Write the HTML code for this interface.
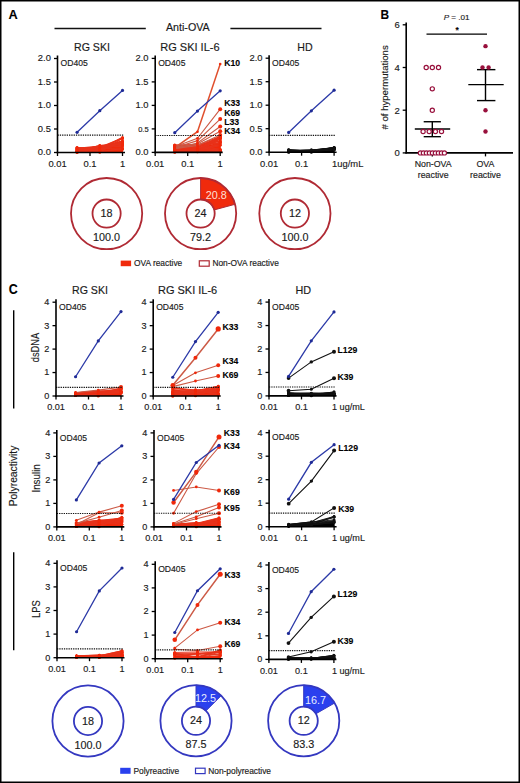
<!DOCTYPE html>
<html><head><meta charset="utf-8"><style>
html,body{margin:0;padding:0;background:#fff;}
body{width:520px;height:783px;overflow:hidden;}
svg{display:block;font-family:"Liberation Sans", sans-serif;}
text{stroke:#1a1a1a;stroke-width:0.15px;paint-order:stroke;}
text[font-weight=bold]{stroke-width:0.1px;}
text.w{stroke:none;}
</style></head><body>
<svg width="520" height="783" viewBox="0 0 520 783">
<rect x="0" y="0" width="520" height="783" fill="#fff"/>
<text x="8.60" y="18.70" font-size="13.4" text-anchor="start" font-weight="bold" fill="#000" textLength="9.2" lengthAdjust="spacingAndGlyphs">A</text>
<line x1="54.50" y1="28.50" x2="145.80" y2="28.50" stroke="#111" stroke-width="1.3" />
<line x1="230.40" y1="28.50" x2="321.50" y2="28.50" stroke="#111" stroke-width="1.3" />
<text x="187.80" y="31.30" font-size="10.7" text-anchor="middle" font-weight="normal" fill="#1a1a1a" >Anti-OVA</text>

<text x="92.00" y="50.50" font-size="10.6" text-anchor="middle" font-weight="normal" fill="#1a1a1a" >RG SKI</text>
<text x="189.90" y="50.60" font-size="11.0" text-anchor="middle" font-weight="normal" fill="#1a1a1a" >RG SKI IL-6</text>
<text x="305.00" y="50.50" font-size="10.6" text-anchor="middle" font-weight="normal" fill="#1a1a1a" >HD</text>
<polygon points="75.87,152.50 75.87,147.33 77.07,147.33 99.78,146.86 122.50,140.28 123.10,140.28 123.10,152.50" fill="#f0280a"/>
<polyline points="77.07,151.16 99.78,148.66 122.50,145.11" fill="none" stroke="#e8321a" stroke-width="1.2"/>
<circle cx="77.07" cy="151.16" r="1.5" fill="#f0280a"/>
<circle cx="99.78" cy="148.66" r="1.5" fill="#f0280a"/>
<circle cx="122.50" cy="145.11" r="1.5" fill="#f0280a"/>
<polyline points="77.07,149.09 99.78,148.09 122.50,149.26" fill="none" stroke="#e8321a" stroke-width="1.2"/>
<circle cx="77.07" cy="149.09" r="1.5" fill="#f0280a"/>
<circle cx="99.78" cy="148.09" r="1.5" fill="#f0280a"/>
<circle cx="122.50" cy="149.26" r="1.5" fill="#f0280a"/>
<polyline points="77.07,152.43 99.78,146.60 122.50,146.62" fill="none" stroke="#e8321a" stroke-width="1.2"/>
<circle cx="77.07" cy="152.43" r="1.5" fill="#f0280a"/>
<circle cx="99.78" cy="146.60" r="1.5" fill="#f0280a"/>
<circle cx="122.50" cy="146.62" r="1.5" fill="#f0280a"/>
<polyline points="77.07,151.18 99.78,145.48 122.50,143.74" fill="none" stroke="#e8321a" stroke-width="1.2"/>
<circle cx="77.07" cy="151.18" r="1.5" fill="#f0280a"/>
<circle cx="99.78" cy="145.48" r="1.5" fill="#f0280a"/>
<circle cx="122.50" cy="143.74" r="1.5" fill="#f0280a"/>
<polyline points="77.07,147.78 99.78,149.14 122.50,141.44" fill="none" stroke="#e8321a" stroke-width="1.2"/>
<circle cx="77.07" cy="147.78" r="1.5" fill="#f0280a"/>
<circle cx="99.78" cy="149.14" r="1.5" fill="#f0280a"/>
<circle cx="122.50" cy="141.44" r="1.5" fill="#f0280a"/>
<polyline points="77.07,151.65 99.78,148.02 122.50,138.32" fill="none" stroke="#e8321a" stroke-width="1.2"/>
<circle cx="77.07" cy="151.65" r="1.5" fill="#f0280a"/>
<circle cx="99.78" cy="148.02" r="1.5" fill="#f0280a"/>
<circle cx="122.50" cy="138.32" r="1.5" fill="#f0280a"/>
<polyline points="77.07,149.55 99.78,147.27 122.50,141.00" fill="none" stroke="#e8321a" stroke-width="1.2"/>
<circle cx="77.07" cy="149.55" r="1.5" fill="#f0280a"/>
<circle cx="99.78" cy="147.27" r="1.5" fill="#f0280a"/>
<circle cx="122.50" cy="141.00" r="1.5" fill="#f0280a"/>
<polyline points="77.07,152.14 99.78,147.15 122.50,142.09" fill="none" stroke="#e8321a" stroke-width="1.2"/>
<circle cx="77.07" cy="152.14" r="1.5" fill="#f0280a"/>
<circle cx="99.78" cy="147.15" r="1.5" fill="#f0280a"/>
<circle cx="122.50" cy="142.09" r="1.5" fill="#f0280a"/>
<polyline points="77.07,150.80 99.78,152.28 122.50,138.35" fill="none" stroke="#e8321a" stroke-width="1.2"/>
<circle cx="77.07" cy="150.80" r="1.5" fill="#f0280a"/>
<circle cx="99.78" cy="152.28" r="1.5" fill="#f0280a"/>
<circle cx="122.50" cy="138.35" r="1.5" fill="#f0280a"/>
<polyline points="77.07,149.83 99.78,147.43 122.50,138.17" fill="none" stroke="#e8321a" stroke-width="1.2"/>
<circle cx="77.07" cy="149.83" r="1.5" fill="#f0280a"/>
<circle cx="99.78" cy="147.43" r="1.5" fill="#f0280a"/>
<circle cx="122.50" cy="138.17" r="1.5" fill="#f0280a"/>
<polyline points="77.07,148.47 99.78,146.01 122.50,144.77" fill="none" stroke="#e8321a" stroke-width="1.2"/>
<circle cx="77.07" cy="148.47" r="1.5" fill="#f0280a"/>
<circle cx="99.78" cy="146.01" r="1.5" fill="#f0280a"/>
<circle cx="122.50" cy="144.77" r="1.5" fill="#f0280a"/>
<polyline points="77.07,147.98 99.78,149.37 122.50,137.40" fill="none" stroke="#e8321a" stroke-width="1.2"/>
<circle cx="77.07" cy="147.98" r="1.5" fill="#f0280a"/>
<circle cx="99.78" cy="149.37" r="1.5" fill="#f0280a"/>
<circle cx="122.50" cy="137.40" r="1.5" fill="#f0280a"/>
<polyline points="77.07,147.54 99.78,151.81 122.50,148.30" fill="none" stroke="#e8321a" stroke-width="1.2"/>
<circle cx="77.07" cy="147.54" r="1.5" fill="#f0280a"/>
<circle cx="99.78" cy="151.81" r="1.5" fill="#f0280a"/>
<circle cx="122.50" cy="148.30" r="1.5" fill="#f0280a"/>
<polyline points="77.07,151.28 99.78,145.69 122.50,144.21" fill="none" stroke="#e8321a" stroke-width="1.2"/>
<circle cx="77.07" cy="151.28" r="1.5" fill="#f0280a"/>
<circle cx="99.78" cy="145.69" r="1.5" fill="#f0280a"/>
<circle cx="122.50" cy="144.21" r="1.5" fill="#f0280a"/>
<polyline points="77.07,148.97 99.78,150.38 122.50,143.24" fill="none" stroke="#e8321a" stroke-width="1.2"/>
<circle cx="77.07" cy="148.97" r="1.5" fill="#f0280a"/>
<circle cx="99.78" cy="150.38" r="1.5" fill="#f0280a"/>
<circle cx="122.50" cy="143.24" r="1.5" fill="#f0280a"/>
<polyline points="77.07,150.32 99.78,150.03 122.50,142.18" fill="none" stroke="#e8321a" stroke-width="1.2"/>
<circle cx="77.07" cy="150.32" r="1.5" fill="#f0280a"/>
<circle cx="99.78" cy="150.03" r="1.5" fill="#f0280a"/>
<circle cx="122.50" cy="142.18" r="1.5" fill="#f0280a"/>
<polyline points="77.07,132.29 99.78,110.67 122.50,90.46" fill="none" stroke="#2c3aa8" stroke-width="1.3"/>
<circle cx="77.07" cy="132.29" r="1.6" fill="#1f2b96"/>
<circle cx="99.78" cy="110.67" r="1.6" fill="#1f2b96"/>
<circle cx="122.50" cy="90.46" r="1.6" fill="#1f2b96"/>
<line x1="57.50" y1="135.11" x2="124.00" y2="135.11" stroke="#111" stroke-width="1.2" stroke-dasharray="1.3 1.0"/>
<line x1="57.50" y1="55.50" x2="57.50" y2="153.25" stroke="#000" stroke-width="1.6" />
<line x1="56.70" y1="152.50" x2="125.00" y2="152.50" stroke="#000" stroke-width="1.6" />
<line x1="54.00" y1="152.50" x2="57.50" y2="152.50" stroke="#000" stroke-width="1.3" />
<text x="50.90" y="155.40" font-size="9.4" text-anchor="end" font-weight="normal" fill="#1a1a1a" >0.0</text>
<line x1="54.00" y1="129.00" x2="57.50" y2="129.00" stroke="#000" stroke-width="1.3" />
<text x="50.90" y="131.90" font-size="9.4" text-anchor="end" font-weight="normal" fill="#1a1a1a" >0.5</text>
<line x1="54.00" y1="105.50" x2="57.50" y2="105.50" stroke="#000" stroke-width="1.3" />
<text x="50.90" y="108.40" font-size="9.4" text-anchor="end" font-weight="normal" fill="#1a1a1a" >1.0</text>
<line x1="54.00" y1="82.00" x2="57.50" y2="82.00" stroke="#000" stroke-width="1.3" />
<text x="50.90" y="84.90" font-size="9.4" text-anchor="end" font-weight="normal" fill="#1a1a1a" >1.5</text>
<line x1="54.00" y1="58.50" x2="57.50" y2="58.50" stroke="#000" stroke-width="1.3" />
<text x="50.90" y="61.40" font-size="9.4" text-anchor="end" font-weight="normal" fill="#1a1a1a" >2.0</text>
<line x1="57.50" y1="152.50" x2="57.50" y2="156.00" stroke="#000" stroke-width="1.3" />
<line x1="90.00" y1="152.50" x2="90.00" y2="156.00" stroke="#000" stroke-width="1.3" />
<line x1="122.50" y1="152.50" x2="122.50" y2="156.00" stroke="#000" stroke-width="1.3" />
<text x="57.50" y="166.80" font-size="9.4" text-anchor="middle" font-weight="normal" fill="#1a1a1a" >0.01</text>
<text x="90.00" y="166.80" font-size="9.4" text-anchor="middle" font-weight="normal" fill="#1a1a1a" >0.1</text>
<text x="122.50" y="166.80" font-size="9.4" text-anchor="middle" font-weight="normal" fill="#1a1a1a" >1</text>
<text x="60.50" y="66.10" font-size="8.6" text-anchor="start" font-weight="normal" fill="#1a1a1a" >OD405</text>
<polygon points="173.57,152.40 173.57,145.35 174.77,145.35 197.48,148.17 220.20,142.06 220.80,142.06 220.80,152.40" fill="#f0280a"/>
<polyline points="174.77,148.01 197.48,144.75 220.20,141.20" fill="none" stroke="#e8321a" stroke-width="1.2"/>
<circle cx="174.77" cy="148.01" r="1.5" fill="#f0280a"/>
<circle cx="197.48" cy="144.75" r="1.5" fill="#f0280a"/>
<circle cx="220.20" cy="141.20" r="1.5" fill="#f0280a"/>
<polyline points="174.77,145.41 197.48,145.15 220.20,136.56" fill="none" stroke="#e8321a" stroke-width="1.2"/>
<circle cx="174.77" cy="145.41" r="1.5" fill="#f0280a"/>
<circle cx="197.48" cy="145.15" r="1.5" fill="#f0280a"/>
<circle cx="220.20" cy="136.56" r="1.5" fill="#f0280a"/>
<polyline points="174.77,147.35 197.48,151.02 220.20,138.52" fill="none" stroke="#e8321a" stroke-width="1.2"/>
<circle cx="174.77" cy="147.35" r="1.5" fill="#f0280a"/>
<circle cx="197.48" cy="151.02" r="1.5" fill="#f0280a"/>
<circle cx="220.20" cy="138.52" r="1.5" fill="#f0280a"/>
<polyline points="174.77,145.15 197.48,144.75 220.20,142.90" fill="none" stroke="#e8321a" stroke-width="1.2"/>
<circle cx="174.77" cy="145.15" r="1.5" fill="#f0280a"/>
<circle cx="197.48" cy="144.75" r="1.5" fill="#f0280a"/>
<circle cx="220.20" cy="142.90" r="1.5" fill="#f0280a"/>
<polyline points="174.77,147.03 197.48,150.61 220.20,138.95" fill="none" stroke="#e8321a" stroke-width="1.2"/>
<circle cx="174.77" cy="147.03" r="1.5" fill="#f0280a"/>
<circle cx="197.48" cy="150.61" r="1.5" fill="#f0280a"/>
<circle cx="220.20" cy="138.95" r="1.5" fill="#f0280a"/>
<polyline points="174.77,148.09 197.48,149.99 220.20,150.51" fill="none" stroke="#e8321a" stroke-width="1.2"/>
<circle cx="174.77" cy="148.09" r="1.5" fill="#f0280a"/>
<circle cx="197.48" cy="149.99" r="1.5" fill="#f0280a"/>
<circle cx="220.20" cy="150.51" r="1.5" fill="#f0280a"/>
<polyline points="174.77,145.98 197.48,144.03 220.20,150.13" fill="none" stroke="#e8321a" stroke-width="1.2"/>
<circle cx="174.77" cy="145.98" r="1.5" fill="#f0280a"/>
<circle cx="197.48" cy="144.03" r="1.5" fill="#f0280a"/>
<circle cx="220.20" cy="150.13" r="1.5" fill="#f0280a"/>
<polyline points="174.77,146.38 197.48,148.93 220.20,149.19" fill="none" stroke="#e8321a" stroke-width="1.2"/>
<circle cx="174.77" cy="146.38" r="1.5" fill="#f0280a"/>
<circle cx="197.48" cy="148.93" r="1.5" fill="#f0280a"/>
<circle cx="220.20" cy="149.19" r="1.5" fill="#f0280a"/>
<polyline points="174.77,150.19 197.48,145.90 220.20,138.33" fill="none" stroke="#e8321a" stroke-width="1.2"/>
<circle cx="174.77" cy="150.19" r="1.5" fill="#f0280a"/>
<circle cx="197.48" cy="145.90" r="1.5" fill="#f0280a"/>
<circle cx="220.20" cy="138.33" r="1.5" fill="#f0280a"/>
<polyline points="174.77,152.07 197.48,147.20 220.20,150.78" fill="none" stroke="#e8321a" stroke-width="1.2"/>
<circle cx="174.77" cy="152.07" r="1.5" fill="#f0280a"/>
<circle cx="197.48" cy="147.20" r="1.5" fill="#f0280a"/>
<circle cx="220.20" cy="150.78" r="1.5" fill="#f0280a"/>
<polyline points="174.77,147.00 197.48,149.60 220.20,138.21" fill="none" stroke="#e8321a" stroke-width="1.2"/>
<circle cx="174.77" cy="147.00" r="1.5" fill="#f0280a"/>
<circle cx="197.48" cy="149.60" r="1.5" fill="#f0280a"/>
<circle cx="220.20" cy="138.21" r="1.5" fill="#f0280a"/>
<polyline points="174.77,145.03 197.48,148.12 220.20,136.44" fill="none" stroke="#e8321a" stroke-width="1.2"/>
<circle cx="174.77" cy="145.03" r="1.5" fill="#f0280a"/>
<circle cx="197.48" cy="148.12" r="1.5" fill="#f0280a"/>
<circle cx="220.20" cy="136.44" r="1.5" fill="#f0280a"/>
<polyline points="174.77,150.07 197.48,151.75 220.20,142.44" fill="none" stroke="#e8321a" stroke-width="1.2"/>
<circle cx="174.77" cy="150.07" r="1.5" fill="#f0280a"/>
<circle cx="197.48" cy="151.75" r="1.5" fill="#f0280a"/>
<circle cx="220.20" cy="142.44" r="1.5" fill="#f0280a"/>
<polyline points="174.77,152.16 197.48,150.73 220.20,145.32" fill="none" stroke="#e8321a" stroke-width="1.2"/>
<circle cx="174.77" cy="152.16" r="1.5" fill="#f0280a"/>
<circle cx="197.48" cy="150.73" r="1.5" fill="#f0280a"/>
<circle cx="220.20" cy="145.32" r="1.5" fill="#f0280a"/>
<polyline points="174.77,147.81 197.48,151.08 220.20,150.82" fill="none" stroke="#e8321a" stroke-width="1.2"/>
<circle cx="174.77" cy="147.81" r="1.5" fill="#f0280a"/>
<circle cx="197.48" cy="151.08" r="1.5" fill="#f0280a"/>
<circle cx="220.20" cy="150.82" r="1.5" fill="#f0280a"/>
<polyline points="174.77,145.87 197.48,149.74 220.20,137.04" fill="none" stroke="#e8321a" stroke-width="1.2"/>
<circle cx="174.77" cy="145.87" r="1.5" fill="#f0280a"/>
<circle cx="197.48" cy="149.74" r="1.5" fill="#f0280a"/>
<circle cx="220.20" cy="137.04" r="1.5" fill="#f0280a"/>
<polyline points="174.77,145.66 197.48,149.20 220.20,144.54" fill="none" stroke="#e8321a" stroke-width="1.2"/>
<circle cx="174.77" cy="145.66" r="1.5" fill="#f0280a"/>
<circle cx="197.48" cy="149.20" r="1.5" fill="#f0280a"/>
<circle cx="220.20" cy="144.54" r="1.5" fill="#f0280a"/>
<polyline points="174.77,148.49 197.48,146.95 220.20,142.50" fill="none" stroke="#e8321a" stroke-width="1.2"/>
<circle cx="174.77" cy="148.49" r="1.5" fill="#f0280a"/>
<circle cx="197.48" cy="146.95" r="1.5" fill="#f0280a"/>
<circle cx="220.20" cy="142.50" r="1.5" fill="#f0280a"/>
<polyline points="174.77,148.19 197.48,147.15 220.20,137.31" fill="none" stroke="#e8321a" stroke-width="1.2"/>
<circle cx="174.77" cy="148.19" r="1.5" fill="#f0280a"/>
<circle cx="197.48" cy="147.15" r="1.5" fill="#f0280a"/>
<circle cx="220.20" cy="137.31" r="1.5" fill="#f0280a"/>
<polyline points="174.77,148.59 197.48,148.75 220.20,140.63" fill="none" stroke="#e8321a" stroke-width="1.2"/>
<circle cx="174.77" cy="148.59" r="1.5" fill="#f0280a"/>
<circle cx="197.48" cy="148.75" r="1.5" fill="#f0280a"/>
<circle cx="220.20" cy="140.63" r="1.5" fill="#f0280a"/>
<polyline points="174.77,150.61 197.48,149.85 220.20,136.75" fill="none" stroke="#e8321a" stroke-width="1.2"/>
<circle cx="174.77" cy="150.61" r="1.5" fill="#f0280a"/>
<circle cx="197.48" cy="149.85" r="1.5" fill="#f0280a"/>
<circle cx="220.20" cy="136.75" r="1.5" fill="#f0280a"/>
<polyline points="174.77,148.48 197.48,147.76 220.20,151.29" fill="none" stroke="#e8321a" stroke-width="1.2"/>
<circle cx="174.77" cy="148.48" r="1.5" fill="#f0280a"/>
<circle cx="197.48" cy="147.76" r="1.5" fill="#f0280a"/>
<circle cx="220.20" cy="151.29" r="1.5" fill="#f0280a"/>
<polyline points="174.77,149.28 197.48,147.49 220.20,151.16" fill="none" stroke="#e8321a" stroke-width="1.2"/>
<circle cx="174.77" cy="149.28" r="1.5" fill="#f0280a"/>
<circle cx="197.48" cy="147.49" r="1.5" fill="#f0280a"/>
<circle cx="220.20" cy="151.16" r="1.5" fill="#f0280a"/>
<polyline points="174.77,147.77 197.48,147.05 220.20,150.56" fill="none" stroke="#e8321a" stroke-width="1.2"/>
<circle cx="174.77" cy="147.77" r="1.5" fill="#f0280a"/>
<circle cx="197.48" cy="147.05" r="1.5" fill="#f0280a"/>
<circle cx="220.20" cy="150.56" r="1.5" fill="#f0280a"/>
<polyline points="174.77,147.70 197.48,131.72 220.20,64.04" fill="none" stroke="#e0502e" stroke-width="1.5"/>
<circle cx="174.77" cy="147.70" r="1.5" fill="#f0280a"/>
<circle cx="197.48" cy="131.72" r="1.3" fill="#f0280a"/>
<circle cx="220.20" cy="64.04" r="1.3" fill="#f0280a"/>
<polyline points="174.77,146.76 197.48,138.30 220.20,109.16" fill="none" stroke="#cc5a46" stroke-width="1.1"/>
<circle cx="174.77" cy="146.76" r="1.4" fill="#f0280a"/>
<circle cx="197.48" cy="138.30" r="1.4" fill="#f0280a"/>
<circle cx="220.20" cy="109.16" r="2.0" fill="#f0280a"/>
<polyline points="174.77,147.70 197.48,140.65 220.20,119.03" fill="none" stroke="#cc5a46" stroke-width="1.1"/>
<circle cx="174.77" cy="147.70" r="1.4" fill="#f0280a"/>
<circle cx="197.48" cy="140.65" r="1.4" fill="#f0280a"/>
<circle cx="220.20" cy="119.03" r="2.0" fill="#f0280a"/>
<polyline points="174.77,148.64 197.48,143.00 220.20,126.55" fill="none" stroke="#cc5a46" stroke-width="1.1"/>
<circle cx="174.77" cy="148.64" r="1.4" fill="#f0280a"/>
<circle cx="197.48" cy="143.00" r="1.4" fill="#f0280a"/>
<circle cx="220.20" cy="126.55" r="2.0" fill="#f0280a"/>
<polyline points="174.77,147.70 197.48,143.94 220.20,131.25" fill="none" stroke="#cc5a46" stroke-width="1.1"/>
<circle cx="174.77" cy="147.70" r="1.4" fill="#f0280a"/>
<circle cx="197.48" cy="143.94" r="1.4" fill="#f0280a"/>
<circle cx="220.20" cy="131.25" r="2.0" fill="#f0280a"/>
<polyline points="174.77,148.64 197.48,145.35 220.20,135.01" fill="none" stroke="#cc5a46" stroke-width="1.1"/>
<circle cx="174.77" cy="148.64" r="1.4" fill="#f0280a"/>
<circle cx="197.48" cy="145.35" r="1.4" fill="#f0280a"/>
<circle cx="220.20" cy="135.01" r="2.0" fill="#f0280a"/>
<polyline points="174.77,132.66 197.48,111.04 220.20,90.83" fill="none" stroke="#2c3aa8" stroke-width="1.3"/>
<circle cx="174.77" cy="132.66" r="1.6" fill="#1f2b96"/>
<circle cx="197.48" cy="111.04" r="1.6" fill="#1f2b96"/>
<circle cx="220.20" cy="90.83" r="1.6" fill="#1f2b96"/>
<line x1="155.20" y1="135.48" x2="221.70" y2="135.48" stroke="#111" stroke-width="1.2" stroke-dasharray="1.3 1.0"/>
<line x1="155.20" y1="55.40" x2="155.20" y2="153.15" stroke="#000" stroke-width="1.6" />
<line x1="154.40" y1="152.40" x2="222.70" y2="152.40" stroke="#000" stroke-width="1.6" />
<line x1="151.70" y1="152.40" x2="155.20" y2="152.40" stroke="#000" stroke-width="1.3" />
<text x="148.60" y="155.30" font-size="9.4" text-anchor="end" font-weight="normal" fill="#1a1a1a" >0.0</text>
<line x1="151.70" y1="128.90" x2="155.20" y2="128.90" stroke="#000" stroke-width="1.3" />
<text x="148.60" y="131.80" font-size="7.5" text-anchor="end" font-weight="normal" fill="#1a1a1a" >0.5</text>
<line x1="151.70" y1="105.40" x2="155.20" y2="105.40" stroke="#000" stroke-width="1.3" />
<text x="148.60" y="108.30" font-size="9.4" text-anchor="end" font-weight="normal" fill="#1a1a1a" >1.0</text>
<line x1="151.70" y1="81.90" x2="155.20" y2="81.90" stroke="#000" stroke-width="1.3" />
<text x="148.60" y="84.80" font-size="9.4" text-anchor="end" font-weight="normal" fill="#1a1a1a" >1.5</text>
<line x1="151.70" y1="58.40" x2="155.20" y2="58.40" stroke="#000" stroke-width="1.3" />
<text x="148.60" y="61.30" font-size="9.4" text-anchor="end" font-weight="normal" fill="#1a1a1a" >2.0</text>
<line x1="155.20" y1="152.40" x2="155.20" y2="155.90" stroke="#000" stroke-width="1.3" />
<line x1="187.70" y1="152.40" x2="187.70" y2="155.90" stroke="#000" stroke-width="1.3" />
<line x1="220.20" y1="152.40" x2="220.20" y2="155.90" stroke="#000" stroke-width="1.3" />
<text x="155.20" y="166.70" font-size="9.4" text-anchor="middle" font-weight="normal" fill="#1a1a1a" >0.01</text>
<text x="187.70" y="166.70" font-size="9.4" text-anchor="middle" font-weight="normal" fill="#1a1a1a" >0.1</text>
<text x="220.20" y="166.70" font-size="9.4" text-anchor="middle" font-weight="normal" fill="#1a1a1a" >1</text>
<text x="158.20" y="66.00" font-size="8.6" text-anchor="start" font-weight="normal" fill="#1a1a1a" >OD405</text>
<text x="224.20" y="66.00" font-size="8.7" text-anchor="start" font-weight="bold" fill="#000" >K10</text>
<text x="224.20" y="106.30" font-size="8.7" text-anchor="start" font-weight="bold" fill="#000" >K33</text>
<text x="224.20" y="115.70" font-size="8.7" text-anchor="start" font-weight="bold" fill="#000" >K69</text>
<text x="224.20" y="125.00" font-size="8.7" text-anchor="start" font-weight="bold" fill="#000" >L33</text>
<text x="224.20" y="134.40" font-size="8.7" text-anchor="start" font-weight="bold" fill="#000" >K34</text>
<polygon points="287.47,152.20 287.47,149.38 288.67,149.38 311.38,149.85 334.10,147.03 334.70,147.03 334.70,152.20" fill="#000"/>
<polyline points="288.67,150.43 311.38,150.89 334.10,148.07" fill="none" stroke="#111" stroke-width="1.2"/>
<circle cx="288.67" cy="150.43" r="1.5" fill="#111"/>
<circle cx="311.38" cy="150.89" r="1.5" fill="#111"/>
<circle cx="334.10" cy="148.07" r="1.5" fill="#111"/>
<polyline points="288.67,151.21 311.38,150.21 334.10,147.79" fill="none" stroke="#111" stroke-width="1.2"/>
<circle cx="288.67" cy="151.21" r="1.5" fill="#111"/>
<circle cx="311.38" cy="150.21" r="1.5" fill="#111"/>
<circle cx="334.10" cy="147.79" r="1.5" fill="#111"/>
<polyline points="288.67,152.14 311.38,152.03 334.10,148.08" fill="none" stroke="#111" stroke-width="1.2"/>
<circle cx="288.67" cy="152.14" r="1.5" fill="#111"/>
<circle cx="311.38" cy="152.03" r="1.5" fill="#111"/>
<circle cx="334.10" cy="148.08" r="1.5" fill="#111"/>
<polyline points="288.67,149.48 311.38,151.49 334.10,149.12" fill="none" stroke="#111" stroke-width="1.2"/>
<circle cx="288.67" cy="149.48" r="1.5" fill="#111"/>
<circle cx="311.38" cy="151.49" r="1.5" fill="#111"/>
<circle cx="334.10" cy="149.12" r="1.5" fill="#111"/>
<polyline points="288.67,150.53 311.38,151.30 334.10,149.55" fill="none" stroke="#111" stroke-width="1.2"/>
<circle cx="288.67" cy="150.53" r="1.5" fill="#111"/>
<circle cx="311.38" cy="151.30" r="1.5" fill="#111"/>
<circle cx="334.10" cy="149.55" r="1.5" fill="#111"/>
<polyline points="288.67,151.32 311.38,151.16 334.10,148.46" fill="none" stroke="#111" stroke-width="1.2"/>
<circle cx="288.67" cy="151.32" r="1.5" fill="#111"/>
<circle cx="311.38" cy="151.16" r="1.5" fill="#111"/>
<circle cx="334.10" cy="148.46" r="1.5" fill="#111"/>
<polyline points="288.67,151.35 311.38,151.14 334.10,147.63" fill="none" stroke="#111" stroke-width="1.2"/>
<circle cx="288.67" cy="151.35" r="1.5" fill="#111"/>
<circle cx="311.38" cy="151.14" r="1.5" fill="#111"/>
<circle cx="334.10" cy="147.63" r="1.5" fill="#111"/>
<polyline points="288.67,152.12 311.38,150.59 334.10,147.80" fill="none" stroke="#111" stroke-width="1.2"/>
<circle cx="288.67" cy="152.12" r="1.5" fill="#111"/>
<circle cx="311.38" cy="150.59" r="1.5" fill="#111"/>
<circle cx="334.10" cy="147.80" r="1.5" fill="#111"/>
<polyline points="288.67,151.33 311.38,151.57 334.10,147.48" fill="none" stroke="#111" stroke-width="1.2"/>
<circle cx="288.67" cy="151.33" r="1.5" fill="#111"/>
<circle cx="311.38" cy="151.57" r="1.5" fill="#111"/>
<circle cx="334.10" cy="147.48" r="1.5" fill="#111"/>
<polyline points="288.67,151.53 311.38,151.67 334.10,149.21" fill="none" stroke="#111" stroke-width="1.2"/>
<circle cx="288.67" cy="151.53" r="1.5" fill="#111"/>
<circle cx="311.38" cy="151.67" r="1.5" fill="#111"/>
<circle cx="334.10" cy="149.21" r="1.5" fill="#111"/>
<polyline points="288.67,150.23 311.38,151.91 334.10,149.75" fill="none" stroke="#111" stroke-width="1.2"/>
<circle cx="288.67" cy="150.23" r="1.5" fill="#111"/>
<circle cx="311.38" cy="151.91" r="1.5" fill="#111"/>
<circle cx="334.10" cy="149.75" r="1.5" fill="#111"/>
<polyline points="288.67,151.26 311.38,149.85 334.10,149.20" fill="none" stroke="#111" stroke-width="1.2"/>
<circle cx="288.67" cy="151.26" r="1.5" fill="#111"/>
<circle cx="311.38" cy="149.85" r="1.5" fill="#111"/>
<circle cx="334.10" cy="149.20" r="1.5" fill="#111"/>
<polyline points="288.67,132.46 311.38,110.84 334.10,90.16" fill="none" stroke="#2c3aa8" stroke-width="1.3"/>
<circle cx="288.67" cy="132.46" r="1.6" fill="#1f2b96"/>
<circle cx="311.38" cy="110.84" r="1.6" fill="#1f2b96"/>
<circle cx="334.10" cy="90.16" r="1.6" fill="#1f2b96"/>
<line x1="269.10" y1="135.28" x2="335.60" y2="135.28" stroke="#111" stroke-width="1.2" stroke-dasharray="1.3 1.0"/>
<line x1="269.10" y1="55.20" x2="269.10" y2="152.95" stroke="#000" stroke-width="1.6" />
<line x1="268.30" y1="152.20" x2="336.60" y2="152.20" stroke="#000" stroke-width="1.6" />
<line x1="265.60" y1="152.20" x2="269.10" y2="152.20" stroke="#000" stroke-width="1.3" />
<text x="262.50" y="155.10" font-size="9.4" text-anchor="end" font-weight="normal" fill="#1a1a1a" >0.0</text>
<line x1="265.60" y1="128.70" x2="269.10" y2="128.70" stroke="#000" stroke-width="1.3" />
<text x="262.50" y="131.60" font-size="9.4" text-anchor="end" font-weight="normal" fill="#1a1a1a" >0.5</text>
<line x1="265.60" y1="105.20" x2="269.10" y2="105.20" stroke="#000" stroke-width="1.3" />
<text x="262.50" y="108.10" font-size="9.4" text-anchor="end" font-weight="normal" fill="#1a1a1a" >1.0</text>
<line x1="265.60" y1="81.70" x2="269.10" y2="81.70" stroke="#000" stroke-width="1.3" />
<text x="262.50" y="84.60" font-size="9.4" text-anchor="end" font-weight="normal" fill="#1a1a1a" >1.5</text>
<line x1="265.60" y1="58.20" x2="269.10" y2="58.20" stroke="#000" stroke-width="1.3" />
<text x="262.50" y="61.10" font-size="9.4" text-anchor="end" font-weight="normal" fill="#1a1a1a" >2.0</text>
<line x1="269.10" y1="152.20" x2="269.10" y2="155.70" stroke="#000" stroke-width="1.3" />
<line x1="301.60" y1="152.20" x2="301.60" y2="155.70" stroke="#000" stroke-width="1.3" />
<line x1="334.10" y1="152.20" x2="334.10" y2="155.70" stroke="#000" stroke-width="1.3" />
<text x="269.10" y="166.50" font-size="9.4" text-anchor="middle" font-weight="normal" fill="#1a1a1a" >0.01</text>
<text x="301.60" y="166.50" font-size="9.4" text-anchor="middle" font-weight="normal" fill="#1a1a1a" >0.1</text>
<text x="332.10" y="166.50" font-size="9.4" text-anchor="start" font-weight="normal" fill="#1a1a1a" >1ug/mL</text>
<text x="272.10" y="65.80" font-size="8.6" text-anchor="start" font-weight="normal" fill="#1a1a1a" >OD405</text>
<circle cx="106.6" cy="213.6" r="35.6" fill="none" stroke="#b02a34" stroke-width="1.8"/>
<circle cx="106.6" cy="213.6" r="14.1" fill="none" stroke="#b02a34" stroke-width="1.8"/>
<text x="106.60" y="217.20" font-size="10.8" text-anchor="middle" font-weight="normal" fill="#1a1a1a" >18</text>
<text x="106.60" y="241.10" font-size="10.8" text-anchor="middle" font-weight="normal" fill="#1a1a1a" >100.0</text>
<path d="M200.60,178.00 A35.6,35.6 0 0 1 234.97,204.31 L214.21,209.92 A14.1,14.1 0 0 0 200.60,199.50 Z" fill="#f02a0c" stroke="#b02a34" stroke-width="1"/>
<circle cx="200.6" cy="213.6" r="35.6" fill="none" stroke="#b02a34" stroke-width="1.8"/>
<circle cx="200.6" cy="213.6" r="14.1" fill="none" stroke="#b02a34" stroke-width="1.8"/>
<text x="200.60" y="217.20" font-size="10.8" text-anchor="middle" font-weight="normal" fill="#1a1a1a" >24</text>
<text x="200.60" y="241.10" font-size="10.8" text-anchor="middle" font-weight="normal" fill="#1a1a1a" >79.2</text>
<text x="216.20" y="198.90" font-size="10.8" text-anchor="middle" font-weight="normal" fill="#fde0d8" class="w">20.8</text>
<circle cx="294.9" cy="213.6" r="35.6" fill="none" stroke="#b02a34" stroke-width="1.8"/>
<circle cx="294.9" cy="213.6" r="14.1" fill="none" stroke="#b02a34" stroke-width="1.8"/>
<text x="294.90" y="217.20" font-size="10.8" text-anchor="middle" font-weight="normal" fill="#1a1a1a" >12</text>
<text x="294.90" y="241.10" font-size="10.8" text-anchor="middle" font-weight="normal" fill="#1a1a1a" >100.0</text>
<rect x="120.7" y="260.6" width="10.4" height="5.6" fill="#f02a0c"/>
<text x="134.00" y="266.30" font-size="8.4" text-anchor="start" font-weight="normal" fill="#1a1a1a" >OVA reactive</text>
<rect x="199.3" y="260.8" width="9.9" height="5.4" fill="none" stroke="#b02a34" stroke-width="1.2"/>
<text x="212.40" y="266.30" font-size="8.4" text-anchor="start" font-weight="normal" fill="#1a1a1a" >Non-OVA reactive</text>
<text x="380.60" y="18.70" font-size="13.4" text-anchor="start" font-weight="bold" fill="#000" textLength="8.6" lengthAdjust="spacingAndGlyphs">B</text>
<line x1="406.20" y1="22.40" x2="406.20" y2="153.60" stroke="#000" stroke-width="1.6" />
<line x1="405.40" y1="152.90" x2="513.00" y2="152.90" stroke="#000" stroke-width="1.6" />
<line x1="402.70" y1="152.90" x2="406.20" y2="152.90" stroke="#000" stroke-width="1.3" />
<text x="399.80" y="156.20" font-size="9.5" text-anchor="end" font-weight="normal" fill="#1a1a1a" >0</text>
<line x1="402.70" y1="110.20" x2="406.20" y2="110.20" stroke="#000" stroke-width="1.3" />
<text x="399.80" y="113.50" font-size="9.5" text-anchor="end" font-weight="normal" fill="#1a1a1a" >2</text>
<line x1="402.70" y1="67.50" x2="406.20" y2="67.50" stroke="#000" stroke-width="1.3" />
<text x="399.80" y="70.80" font-size="9.5" text-anchor="end" font-weight="normal" fill="#1a1a1a" >4</text>
<line x1="402.70" y1="24.80" x2="406.20" y2="24.80" stroke="#000" stroke-width="1.3" />
<text x="399.80" y="28.10" font-size="9.5" text-anchor="end" font-weight="normal" fill="#1a1a1a" >6</text>
<line x1="432.30" y1="152.90" x2="432.30" y2="156.40" stroke="#000" stroke-width="1.3" />
<line x1="485.50" y1="152.90" x2="485.50" y2="156.40" stroke="#000" stroke-width="1.3" />
<text transform="translate(388.4,87.4) rotate(-90)" font-size="9.6" text-anchor="middle" fill="#1a1a1a"># of hypermutations</text>
<text x="456.6" y="20.2" font-size="8.1" text-anchor="middle" fill="#1a1a1a"><tspan font-style="italic">P</tspan> = .01</text>
<line x1="426.50" y1="34.10" x2="487.00" y2="34.10" stroke="#000" stroke-width="1.3" />
<text x="457.20" y="32.60" font-size="8.5" text-anchor="middle" font-weight="bold" fill="#000" >*</text>
<line x1="414.80" y1="128.99" x2="450.20" y2="128.99" stroke="#000" stroke-width="1.4" />
<line x1="423.70" y1="121.73" x2="440.90" y2="121.73" stroke="#000" stroke-width="1.4" />
<line x1="423.70" y1="136.67" x2="440.90" y2="136.67" stroke="#000" stroke-width="1.4" />
<line x1="432.30" y1="121.73" x2="432.30" y2="136.67" stroke="#000" stroke-width="1.4" />
<circle cx="426.20" cy="67.50" r="2.1" fill="#fff" stroke="#98103c" stroke-width="1.2"/>
<circle cx="432.30" cy="67.50" r="2.1" fill="#fff" stroke="#98103c" stroke-width="1.2"/>
<circle cx="438.50" cy="67.50" r="2.1" fill="#fff" stroke="#98103c" stroke-width="1.2"/>
<circle cx="432.30" cy="88.85" r="2.1" fill="#fff" stroke="#98103c" stroke-width="1.2"/>
<circle cx="432.30" cy="110.20" r="2.1" fill="#fff" stroke="#98103c" stroke-width="1.2"/>
<circle cx="423.10" cy="131.55" r="2.1" fill="#fff" stroke="#98103c" stroke-width="1.2"/>
<circle cx="429.20" cy="131.55" r="2.1" fill="#fff" stroke="#98103c" stroke-width="1.2"/>
<circle cx="435.40" cy="131.55" r="2.1" fill="#fff" stroke="#98103c" stroke-width="1.2"/>
<circle cx="441.50" cy="131.55" r="2.1" fill="#fff" stroke="#98103c" stroke-width="1.2"/>
<circle cx="420.40" cy="152.90" r="2.1" fill="#fff" stroke="#98103c" stroke-width="1.2"/>
<circle cx="423.40" cy="152.90" r="2.1" fill="#fff" stroke="#98103c" stroke-width="1.2"/>
<circle cx="426.40" cy="152.90" r="2.1" fill="#fff" stroke="#98103c" stroke-width="1.2"/>
<circle cx="429.40" cy="152.90" r="2.1" fill="#fff" stroke="#98103c" stroke-width="1.2"/>
<circle cx="432.40" cy="152.90" r="2.1" fill="#fff" stroke="#98103c" stroke-width="1.2"/>
<circle cx="435.40" cy="152.90" r="2.1" fill="#fff" stroke="#98103c" stroke-width="1.2"/>
<circle cx="438.40" cy="152.90" r="2.1" fill="#fff" stroke="#98103c" stroke-width="1.2"/>
<circle cx="441.40" cy="152.90" r="2.1" fill="#fff" stroke="#98103c" stroke-width="1.2"/>
<circle cx="444.40" cy="152.90" r="2.1" fill="#fff" stroke="#98103c" stroke-width="1.2"/>
<line x1="468.30" y1="84.58" x2="503.70" y2="84.58" stroke="#000" stroke-width="1.4" />
<line x1="477.00" y1="69.64" x2="495.40" y2="69.64" stroke="#000" stroke-width="1.4" />
<line x1="477.00" y1="100.59" x2="495.40" y2="100.59" stroke="#000" stroke-width="1.4" />
<line x1="485.50" y1="69.64" x2="485.50" y2="100.59" stroke="#000" stroke-width="1.4" />
<circle cx="485.50" cy="46.15" r="2.2" fill="#98103c"/>
<circle cx="482.50" cy="67.50" r="2.2" fill="#98103c"/>
<circle cx="488.60" cy="67.50" r="2.2" fill="#98103c"/>
<circle cx="485.50" cy="110.20" r="2.2" fill="#98103c"/>
<circle cx="485.50" cy="131.55" r="2.2" fill="#98103c"/>
<text x="433.20" y="167.00" font-size="8.8" text-anchor="middle" font-weight="normal" fill="#1a1a1a" >Non-OVA</text>
<text x="433.20" y="177.80" font-size="8.8" text-anchor="middle" font-weight="normal" fill="#1a1a1a" >reactive</text>
<text x="485.50" y="167.00" font-size="8.8" text-anchor="middle" font-weight="normal" fill="#1a1a1a" >OVA</text>
<text x="485.50" y="177.80" font-size="8.8" text-anchor="middle" font-weight="normal" fill="#1a1a1a" >reactive</text>
<text x="8.70" y="293.50" font-size="13.8" text-anchor="start" font-weight="bold" fill="#000" textLength="9.0" lengthAdjust="spacingAndGlyphs">C</text>
<text x="90.00" y="294.20" font-size="10.6" text-anchor="middle" font-weight="normal" fill="#1a1a1a" >RG SKI</text>
<text x="187.60" y="294.00" font-size="11.0" text-anchor="middle" font-weight="normal" fill="#1a1a1a" >RG SKI IL-6</text>
<text x="303.20" y="294.00" font-size="10.8" text-anchor="middle" font-weight="normal" fill="#1a1a1a" >HD</text>
<line x1="13.70" y1="310.30" x2="13.70" y2="408.50" stroke="#000" stroke-width="1.4" />
<line x1="13.70" y1="552.30" x2="13.70" y2="650.30" stroke="#000" stroke-width="1.4" />
<text transform="translate(17.3,476.0) rotate(-90)" font-size="10.3" text-anchor="middle" fill="#1a1a1a">Polyreactivity</text>
<text transform="translate(38.6,347.5) rotate(-90)" font-size="10.2" text-anchor="middle" fill="#1a1a1a" textLength="29.5" lengthAdjust="spacingAndGlyphs">dsDNA</text>
<text transform="translate(39.8,478.4) rotate(-90)" font-size="10.6" text-anchor="middle" fill="#1a1a1a" textLength="28.4" lengthAdjust="spacingAndGlyphs">Insulin</text>
<text transform="translate(39.7,609.1) rotate(-90)" font-size="10.6" text-anchor="middle" fill="#1a1a1a" textLength="17.6" lengthAdjust="spacingAndGlyphs">LPS</text>
<polygon points="74.37,396.00 74.37,393.19 75.57,393.19 98.28,392.01 121.00,388.96 121.60,388.96 121.60,396.00" fill="#f0280a"/>
<polyline points="75.57,393.19 98.28,395.13 121.00,392.38" fill="none" stroke="#e8321a" stroke-width="1.2"/>
<circle cx="75.57" cy="393.19" r="1.5" fill="#f0280a"/>
<circle cx="98.28" cy="395.13" r="1.5" fill="#f0280a"/>
<circle cx="121.00" cy="392.38" r="1.5" fill="#f0280a"/>
<polyline points="75.57,393.87 98.28,391.43 121.00,391.55" fill="none" stroke="#e8321a" stroke-width="1.2"/>
<circle cx="75.57" cy="393.87" r="1.5" fill="#f0280a"/>
<circle cx="98.28" cy="391.43" r="1.5" fill="#f0280a"/>
<circle cx="121.00" cy="391.55" r="1.5" fill="#f0280a"/>
<polyline points="75.57,395.26 98.28,395.38 121.00,390.98" fill="none" stroke="#e8321a" stroke-width="1.2"/>
<circle cx="75.57" cy="395.26" r="1.5" fill="#f0280a"/>
<circle cx="98.28" cy="395.38" r="1.5" fill="#f0280a"/>
<circle cx="121.00" cy="390.98" r="1.5" fill="#f0280a"/>
<polyline points="75.57,395.37 98.28,391.84 121.00,388.73" fill="none" stroke="#e8321a" stroke-width="1.2"/>
<circle cx="75.57" cy="395.37" r="1.5" fill="#f0280a"/>
<circle cx="98.28" cy="391.84" r="1.5" fill="#f0280a"/>
<circle cx="121.00" cy="388.73" r="1.5" fill="#f0280a"/>
<polyline points="75.57,395.40 98.28,394.56 121.00,388.96" fill="none" stroke="#e8321a" stroke-width="1.2"/>
<circle cx="75.57" cy="395.40" r="1.5" fill="#f0280a"/>
<circle cx="98.28" cy="394.56" r="1.5" fill="#f0280a"/>
<circle cx="121.00" cy="388.96" r="1.5" fill="#f0280a"/>
<polyline points="75.57,393.89 98.28,391.84 121.00,392.32" fill="none" stroke="#e8321a" stroke-width="1.2"/>
<circle cx="75.57" cy="393.89" r="1.5" fill="#f0280a"/>
<circle cx="98.28" cy="391.84" r="1.5" fill="#f0280a"/>
<circle cx="121.00" cy="392.32" r="1.5" fill="#f0280a"/>
<polyline points="75.57,395.57 98.28,394.49 121.00,389.06" fill="none" stroke="#e8321a" stroke-width="1.2"/>
<circle cx="75.57" cy="395.57" r="1.5" fill="#f0280a"/>
<circle cx="98.28" cy="394.49" r="1.5" fill="#f0280a"/>
<circle cx="121.00" cy="389.06" r="1.5" fill="#f0280a"/>
<polyline points="75.57,395.11 98.28,394.21 121.00,391.80" fill="none" stroke="#e8321a" stroke-width="1.2"/>
<circle cx="75.57" cy="395.11" r="1.5" fill="#f0280a"/>
<circle cx="98.28" cy="394.21" r="1.5" fill="#f0280a"/>
<circle cx="121.00" cy="391.80" r="1.5" fill="#f0280a"/>
<polyline points="75.57,394.62 98.28,393.89 121.00,388.14" fill="none" stroke="#e8321a" stroke-width="1.2"/>
<circle cx="75.57" cy="394.62" r="1.5" fill="#f0280a"/>
<circle cx="98.28" cy="393.89" r="1.5" fill="#f0280a"/>
<circle cx="121.00" cy="388.14" r="1.5" fill="#f0280a"/>
<polyline points="75.57,395.49 98.28,395.98 121.00,387.97" fill="none" stroke="#e8321a" stroke-width="1.2"/>
<circle cx="75.57" cy="395.49" r="1.5" fill="#f0280a"/>
<circle cx="98.28" cy="395.98" r="1.5" fill="#f0280a"/>
<circle cx="121.00" cy="387.97" r="1.5" fill="#f0280a"/>
<polyline points="75.57,393.11 98.28,390.91 121.00,391.67" fill="none" stroke="#e8321a" stroke-width="1.2"/>
<circle cx="75.57" cy="393.11" r="1.5" fill="#f0280a"/>
<circle cx="98.28" cy="390.91" r="1.5" fill="#f0280a"/>
<circle cx="121.00" cy="391.67" r="1.5" fill="#f0280a"/>
<polyline points="75.57,392.88 98.28,391.22 121.00,393.21" fill="none" stroke="#e8321a" stroke-width="1.2"/>
<circle cx="75.57" cy="392.88" r="1.5" fill="#f0280a"/>
<circle cx="98.28" cy="391.22" r="1.5" fill="#f0280a"/>
<circle cx="121.00" cy="393.21" r="1.5" fill="#f0280a"/>
<polyline points="75.57,393.55 98.28,391.68 121.00,390.01" fill="none" stroke="#e8321a" stroke-width="1.2"/>
<circle cx="75.57" cy="393.55" r="1.5" fill="#f0280a"/>
<circle cx="98.28" cy="391.68" r="1.5" fill="#f0280a"/>
<circle cx="121.00" cy="390.01" r="1.5" fill="#f0280a"/>
<polyline points="75.57,394.30 98.28,394.51 121.00,392.35" fill="none" stroke="#e8321a" stroke-width="1.2"/>
<circle cx="75.57" cy="394.30" r="1.5" fill="#f0280a"/>
<circle cx="98.28" cy="394.51" r="1.5" fill="#f0280a"/>
<circle cx="121.00" cy="392.35" r="1.5" fill="#f0280a"/>
<polyline points="75.57,392.48 98.28,390.14 121.00,387.09" fill="none" stroke="#cc5a46" stroke-width="1.1"/>
<circle cx="75.57" cy="392.48" r="1.4" fill="#f0280a"/>
<circle cx="98.28" cy="390.14" r="1.4" fill="#f0280a"/>
<circle cx="121.00" cy="387.09" r="2.0" fill="#f0280a"/>
<polyline points="75.57,376.77 98.28,340.89 121.00,311.58" fill="none" stroke="#2c3aa8" stroke-width="1.3"/>
<circle cx="75.57" cy="376.77" r="1.6" fill="#1f2b96"/>
<circle cx="98.28" cy="340.89" r="1.6" fill="#1f2b96"/>
<circle cx="121.00" cy="311.58" r="1.6" fill="#1f2b96"/>
<line x1="56.00" y1="387.32" x2="122.50" y2="387.32" stroke="#111" stroke-width="1.2" stroke-dasharray="1.3 1.0"/>
<line x1="56.00" y1="299.20" x2="56.00" y2="396.75" stroke="#000" stroke-width="1.6" />
<line x1="55.20" y1="396.00" x2="123.50" y2="396.00" stroke="#000" stroke-width="1.6" />
<line x1="52.50" y1="396.00" x2="56.00" y2="396.00" stroke="#000" stroke-width="1.3" />
<text x="49.40" y="398.90" font-size="9.1" text-anchor="end" font-weight="normal" fill="#1a1a1a" >0</text>
<line x1="52.50" y1="372.55" x2="56.00" y2="372.55" stroke="#000" stroke-width="1.3" />
<text x="49.40" y="375.45" font-size="9.1" text-anchor="end" font-weight="normal" fill="#1a1a1a" >1</text>
<line x1="52.50" y1="349.10" x2="56.00" y2="349.10" stroke="#000" stroke-width="1.3" />
<text x="49.40" y="352.00" font-size="9.1" text-anchor="end" font-weight="normal" fill="#1a1a1a" >2</text>
<line x1="52.50" y1="325.65" x2="56.00" y2="325.65" stroke="#000" stroke-width="1.3" />
<text x="49.40" y="328.55" font-size="9.1" text-anchor="end" font-weight="normal" fill="#1a1a1a" >3</text>
<line x1="52.50" y1="302.20" x2="56.00" y2="302.20" stroke="#000" stroke-width="1.3" />
<text x="49.40" y="305.10" font-size="9.1" text-anchor="end" font-weight="normal" fill="#1a1a1a" >4</text>
<line x1="56.00" y1="396.00" x2="56.00" y2="399.50" stroke="#000" stroke-width="1.3" />
<line x1="88.50" y1="396.00" x2="88.50" y2="399.50" stroke="#000" stroke-width="1.3" />
<line x1="121.00" y1="396.00" x2="121.00" y2="399.50" stroke="#000" stroke-width="1.3" />
<text x="56.00" y="410.30" font-size="9.1" text-anchor="middle" font-weight="normal" fill="#1a1a1a" >0.01</text>
<text x="88.50" y="410.30" font-size="9.1" text-anchor="middle" font-weight="normal" fill="#1a1a1a" >0.1</text>
<text x="121.00" y="410.30" font-size="9.1" text-anchor="middle" font-weight="normal" fill="#1a1a1a" >1</text>
<text x="59.00" y="309.80" font-size="8.6" text-anchor="start" font-weight="normal" fill="#1a1a1a" >OD405</text>
<polygon points="171.57,396.00 171.57,388.96 172.77,388.96 195.48,392.48 218.20,387.79 218.80,387.79 218.80,396.00" fill="#f0280a"/>
<polyline points="172.77,393.87 195.48,395.55 218.20,389.31" fill="none" stroke="#e8321a" stroke-width="1.0"/>
<circle cx="172.77" cy="393.87" r="1.5" fill="#f0280a"/>
<circle cx="195.48" cy="395.55" r="1.5" fill="#f0280a"/>
<circle cx="218.20" cy="389.31" r="1.5" fill="#f0280a"/>
<polyline points="172.77,393.31 195.48,390.68 218.20,394.40" fill="none" stroke="#e8321a" stroke-width="1.0"/>
<circle cx="172.77" cy="393.31" r="1.5" fill="#f0280a"/>
<circle cx="195.48" cy="390.68" r="1.5" fill="#f0280a"/>
<circle cx="218.20" cy="394.40" r="1.5" fill="#f0280a"/>
<polyline points="172.77,387.52 195.48,391.45 218.20,386.16" fill="none" stroke="#e8321a" stroke-width="1.0"/>
<circle cx="172.77" cy="387.52" r="1.5" fill="#f0280a"/>
<circle cx="195.48" cy="391.45" r="1.5" fill="#f0280a"/>
<circle cx="218.20" cy="386.16" r="1.5" fill="#f0280a"/>
<polyline points="172.77,387.59 195.48,390.09 218.20,389.42" fill="none" stroke="#e8321a" stroke-width="1.0"/>
<circle cx="172.77" cy="387.59" r="1.5" fill="#f0280a"/>
<circle cx="195.48" cy="390.09" r="1.5" fill="#f0280a"/>
<circle cx="218.20" cy="389.42" r="1.5" fill="#f0280a"/>
<polyline points="172.77,395.88 195.48,391.11 218.20,393.22" fill="none" stroke="#e8321a" stroke-width="1.0"/>
<circle cx="172.77" cy="395.88" r="1.5" fill="#f0280a"/>
<circle cx="195.48" cy="391.11" r="1.5" fill="#f0280a"/>
<circle cx="218.20" cy="393.22" r="1.5" fill="#f0280a"/>
<polyline points="172.77,393.19 195.48,391.65 218.20,389.90" fill="none" stroke="#e8321a" stroke-width="1.0"/>
<circle cx="172.77" cy="393.19" r="1.5" fill="#f0280a"/>
<circle cx="195.48" cy="391.65" r="1.5" fill="#f0280a"/>
<circle cx="218.20" cy="389.90" r="1.5" fill="#f0280a"/>
<polyline points="172.77,392.12 195.48,389.83 218.20,389.09" fill="none" stroke="#e8321a" stroke-width="1.0"/>
<circle cx="172.77" cy="392.12" r="1.5" fill="#f0280a"/>
<circle cx="195.48" cy="389.83" r="1.5" fill="#f0280a"/>
<circle cx="218.20" cy="389.09" r="1.5" fill="#f0280a"/>
<polyline points="172.77,392.80 195.48,394.34 218.20,386.75" fill="none" stroke="#e8321a" stroke-width="1.0"/>
<circle cx="172.77" cy="392.80" r="1.5" fill="#f0280a"/>
<circle cx="195.48" cy="394.34" r="1.5" fill="#f0280a"/>
<circle cx="218.20" cy="386.75" r="1.5" fill="#f0280a"/>
<polyline points="172.77,391.52 195.48,390.86 218.20,391.53" fill="none" stroke="#e8321a" stroke-width="1.0"/>
<circle cx="172.77" cy="391.52" r="1.5" fill="#f0280a"/>
<circle cx="195.48" cy="390.86" r="1.5" fill="#f0280a"/>
<circle cx="218.20" cy="391.53" r="1.5" fill="#f0280a"/>
<polyline points="172.77,394.15 195.48,392.49 218.20,387.17" fill="none" stroke="#e8321a" stroke-width="1.0"/>
<circle cx="172.77" cy="394.15" r="1.5" fill="#f0280a"/>
<circle cx="195.48" cy="392.49" r="1.5" fill="#f0280a"/>
<circle cx="218.20" cy="387.17" r="1.5" fill="#f0280a"/>
<polyline points="172.77,394.39 195.48,390.80 218.20,386.18" fill="none" stroke="#e8321a" stroke-width="1.0"/>
<circle cx="172.77" cy="394.39" r="1.5" fill="#f0280a"/>
<circle cx="195.48" cy="390.80" r="1.5" fill="#f0280a"/>
<circle cx="218.20" cy="386.18" r="1.5" fill="#f0280a"/>
<polyline points="172.77,388.44 195.48,390.59 218.20,394.76" fill="none" stroke="#e8321a" stroke-width="1.0"/>
<circle cx="172.77" cy="388.44" r="1.5" fill="#f0280a"/>
<circle cx="195.48" cy="390.59" r="1.5" fill="#f0280a"/>
<circle cx="218.20" cy="394.76" r="1.5" fill="#f0280a"/>
<polyline points="172.77,390.10 195.48,390.34 218.20,394.36" fill="none" stroke="#e8321a" stroke-width="1.0"/>
<circle cx="172.77" cy="390.10" r="1.5" fill="#f0280a"/>
<circle cx="195.48" cy="390.34" r="1.5" fill="#f0280a"/>
<circle cx="218.20" cy="394.36" r="1.5" fill="#f0280a"/>
<polyline points="172.77,393.45 195.48,394.24 218.20,389.88" fill="none" stroke="#e8321a" stroke-width="1.0"/>
<circle cx="172.77" cy="393.45" r="1.5" fill="#f0280a"/>
<circle cx="195.48" cy="394.24" r="1.5" fill="#f0280a"/>
<circle cx="218.20" cy="389.88" r="1.5" fill="#f0280a"/>
<polyline points="172.77,392.03 195.48,392.89 218.20,387.54" fill="none" stroke="#e8321a" stroke-width="1.0"/>
<circle cx="172.77" cy="392.03" r="1.5" fill="#f0280a"/>
<circle cx="195.48" cy="392.89" r="1.5" fill="#f0280a"/>
<circle cx="218.20" cy="387.54" r="1.5" fill="#f0280a"/>
<polyline points="172.77,395.98 195.48,395.64 218.20,393.64" fill="none" stroke="#e8321a" stroke-width="1.0"/>
<circle cx="172.77" cy="395.98" r="1.5" fill="#f0280a"/>
<circle cx="195.48" cy="395.64" r="1.5" fill="#f0280a"/>
<circle cx="218.20" cy="393.64" r="1.5" fill="#f0280a"/>
<polyline points="172.77,386.62 195.48,380.99 218.20,376.07" fill="none" stroke="#cc5a46" stroke-width="1.1"/>
<circle cx="172.77" cy="386.62" r="1.4" fill="#f0280a"/>
<circle cx="195.48" cy="380.99" r="1.4" fill="#f0280a"/>
<circle cx="218.20" cy="376.07" r="2.0" fill="#f0280a"/>
<polyline points="172.77,385.45 195.48,372.78 218.20,365.28" fill="none" stroke="#cc5a46" stroke-width="1.1"/>
<circle cx="172.77" cy="385.45" r="1.4" fill="#f0280a"/>
<circle cx="195.48" cy="372.78" r="1.4" fill="#f0280a"/>
<circle cx="218.20" cy="365.28" r="2.0" fill="#f0280a"/>
<polyline points="172.77,385.21 195.48,357.78 218.20,328.93" fill="none" stroke="#cc5a46" stroke-width="1.5"/>
<circle cx="172.77" cy="385.21" r="2.3" fill="#f0280a"/>
<circle cx="195.48" cy="357.78" r="2.0" fill="#f0280a"/>
<circle cx="218.20" cy="328.93" r="2.6" fill="#f0280a"/>
<polyline points="172.77,377.24 195.48,341.60 218.20,312.28" fill="none" stroke="#2c3aa8" stroke-width="1.3"/>
<circle cx="172.77" cy="377.24" r="1.6" fill="#1f2b96"/>
<circle cx="195.48" cy="341.60" r="1.6" fill="#1f2b96"/>
<circle cx="218.20" cy="312.28" r="1.6" fill="#1f2b96"/>
<line x1="153.20" y1="387.32" x2="219.70" y2="387.32" stroke="#111" stroke-width="1.2" stroke-dasharray="1.3 1.0"/>
<line x1="153.20" y1="299.20" x2="153.20" y2="396.75" stroke="#000" stroke-width="1.6" />
<line x1="152.40" y1="396.00" x2="220.70" y2="396.00" stroke="#000" stroke-width="1.6" />
<line x1="149.70" y1="396.00" x2="153.20" y2="396.00" stroke="#000" stroke-width="1.3" />
<text x="146.60" y="398.90" font-size="9.1" text-anchor="end" font-weight="normal" fill="#1a1a1a" >0</text>
<line x1="149.70" y1="372.55" x2="153.20" y2="372.55" stroke="#000" stroke-width="1.3" />
<text x="146.60" y="375.45" font-size="9.1" text-anchor="end" font-weight="normal" fill="#1a1a1a" >1</text>
<line x1="149.70" y1="349.10" x2="153.20" y2="349.10" stroke="#000" stroke-width="1.3" />
<text x="146.60" y="352.00" font-size="9.1" text-anchor="end" font-weight="normal" fill="#1a1a1a" >2</text>
<line x1="149.70" y1="325.65" x2="153.20" y2="325.65" stroke="#000" stroke-width="1.3" />
<text x="146.60" y="328.55" font-size="9.1" text-anchor="end" font-weight="normal" fill="#1a1a1a" >3</text>
<line x1="149.70" y1="302.20" x2="153.20" y2="302.20" stroke="#000" stroke-width="1.3" />
<text x="146.60" y="305.10" font-size="9.1" text-anchor="end" font-weight="normal" fill="#1a1a1a" >4</text>
<line x1="153.20" y1="396.00" x2="153.20" y2="399.50" stroke="#000" stroke-width="1.3" />
<line x1="185.70" y1="396.00" x2="185.70" y2="399.50" stroke="#000" stroke-width="1.3" />
<line x1="218.20" y1="396.00" x2="218.20" y2="399.50" stroke="#000" stroke-width="1.3" />
<text x="153.20" y="410.30" font-size="9.1" text-anchor="middle" font-weight="normal" fill="#1a1a1a" >0.01</text>
<text x="185.70" y="410.30" font-size="9.1" text-anchor="middle" font-weight="normal" fill="#1a1a1a" >0.1</text>
<text x="218.20" y="410.30" font-size="9.1" text-anchor="middle" font-weight="normal" fill="#1a1a1a" >1</text>
<text x="156.20" y="309.80" font-size="8.6" text-anchor="start" font-weight="normal" fill="#1a1a1a" >OD405</text>
<text x="222.50" y="329.85" font-size="8.7" text-anchor="start" font-weight="bold" fill="#000" >K33</text>
<text x="222.50" y="363.60" font-size="8.7" text-anchor="start" font-weight="bold" fill="#000" >K34</text>
<text x="222.50" y="378.10" font-size="8.7" text-anchor="start" font-weight="bold" fill="#000" >K69</text>
<polygon points="287.37,395.90 287.37,392.62 288.57,392.62 311.28,393.09 334.00,391.91 334.60,391.91 334.60,395.90" fill="#000"/>
<polyline points="288.57,395.46 311.28,395.66 334.00,391.77" fill="none" stroke="#111" stroke-width="1.2"/>
<circle cx="288.57" cy="395.46" r="1.5" fill="#111"/>
<circle cx="311.28" cy="395.66" r="1.5" fill="#111"/>
<circle cx="334.00" cy="391.77" r="1.5" fill="#111"/>
<polyline points="288.57,392.89 311.28,395.60 334.00,393.55" fill="none" stroke="#111" stroke-width="1.2"/>
<circle cx="288.57" cy="392.89" r="1.5" fill="#111"/>
<circle cx="311.28" cy="395.60" r="1.5" fill="#111"/>
<circle cx="334.00" cy="393.55" r="1.5" fill="#111"/>
<polyline points="288.57,394.79 311.28,394.79 334.00,394.11" fill="none" stroke="#111" stroke-width="1.2"/>
<circle cx="288.57" cy="394.79" r="1.5" fill="#111"/>
<circle cx="311.28" cy="394.79" r="1.5" fill="#111"/>
<circle cx="334.00" cy="394.11" r="1.5" fill="#111"/>
<polyline points="288.57,393.62 311.28,393.84 334.00,394.08" fill="none" stroke="#111" stroke-width="1.2"/>
<circle cx="288.57" cy="393.62" r="1.5" fill="#111"/>
<circle cx="311.28" cy="393.84" r="1.5" fill="#111"/>
<circle cx="334.00" cy="394.08" r="1.5" fill="#111"/>
<polyline points="288.57,395.23 311.28,394.74 334.00,394.97" fill="none" stroke="#111" stroke-width="1.2"/>
<circle cx="288.57" cy="395.23" r="1.5" fill="#111"/>
<circle cx="311.28" cy="394.74" r="1.5" fill="#111"/>
<circle cx="334.00" cy="394.97" r="1.5" fill="#111"/>
<polyline points="288.57,393.95 311.28,393.38 334.00,394.00" fill="none" stroke="#111" stroke-width="1.2"/>
<circle cx="288.57" cy="393.95" r="1.5" fill="#111"/>
<circle cx="311.28" cy="393.38" r="1.5" fill="#111"/>
<circle cx="334.00" cy="394.00" r="1.5" fill="#111"/>
<polyline points="288.57,395.62 311.28,395.27 334.00,394.03" fill="none" stroke="#111" stroke-width="1.2"/>
<circle cx="288.57" cy="395.62" r="1.5" fill="#111"/>
<circle cx="311.28" cy="395.27" r="1.5" fill="#111"/>
<circle cx="334.00" cy="394.03" r="1.5" fill="#111"/>
<polyline points="288.57,393.77 311.28,393.15 334.00,394.00" fill="none" stroke="#111" stroke-width="1.2"/>
<circle cx="288.57" cy="393.77" r="1.5" fill="#111"/>
<circle cx="311.28" cy="393.15" r="1.5" fill="#111"/>
<circle cx="334.00" cy="394.00" r="1.5" fill="#111"/>
<polyline points="288.57,393.08 311.28,393.71 334.00,393.81" fill="none" stroke="#111" stroke-width="1.2"/>
<circle cx="288.57" cy="393.08" r="1.5" fill="#111"/>
<circle cx="311.28" cy="393.71" r="1.5" fill="#111"/>
<circle cx="334.00" cy="393.81" r="1.5" fill="#111"/>
<polyline points="288.57,394.59 311.28,394.15 334.00,392.79" fill="none" stroke="#111" stroke-width="1.2"/>
<circle cx="288.57" cy="394.59" r="1.5" fill="#111"/>
<circle cx="311.28" cy="394.15" r="1.5" fill="#111"/>
<circle cx="334.00" cy="392.79" r="1.5" fill="#111"/>
<polyline points="288.57,390.74 311.28,389.33 334.00,378.31" fill="none" stroke="#111" stroke-width="1.1"/>
<circle cx="288.57" cy="390.74" r="1.9" fill="#111"/>
<circle cx="311.28" cy="389.33" r="1.5" fill="#111"/>
<circle cx="334.00" cy="378.31" r="2.0" fill="#111"/>
<polyline points="288.57,378.08 311.28,361.90 334.00,351.81" fill="none" stroke="#111" stroke-width="1.1"/>
<circle cx="288.57" cy="378.08" r="1.9" fill="#111"/>
<circle cx="311.28" cy="361.90" r="1.7" fill="#111"/>
<circle cx="334.00" cy="351.81" r="2.0" fill="#111"/>
<polyline points="288.57,376.44 311.28,340.79 334.00,311.95" fill="none" stroke="#2c3aa8" stroke-width="1.3"/>
<circle cx="288.57" cy="376.44" r="1.6" fill="#1f2b96"/>
<circle cx="311.28" cy="340.79" r="1.6" fill="#1f2b96"/>
<circle cx="334.00" cy="311.95" r="1.6" fill="#1f2b96"/>
<line x1="269.00" y1="386.99" x2="335.50" y2="386.99" stroke="#111" stroke-width="1.2" stroke-dasharray="1.3 1.0"/>
<line x1="269.00" y1="299.10" x2="269.00" y2="396.65" stroke="#000" stroke-width="1.6" />
<line x1="268.20" y1="395.90" x2="336.50" y2="395.90" stroke="#000" stroke-width="1.6" />
<line x1="265.50" y1="395.90" x2="269.00" y2="395.90" stroke="#000" stroke-width="1.3" />
<text x="262.40" y="398.80" font-size="9.1" text-anchor="end" font-weight="normal" fill="#1a1a1a" >0</text>
<line x1="265.50" y1="372.45" x2="269.00" y2="372.45" stroke="#000" stroke-width="1.3" />
<text x="262.40" y="375.35" font-size="9.1" text-anchor="end" font-weight="normal" fill="#1a1a1a" >1</text>
<line x1="265.50" y1="349.00" x2="269.00" y2="349.00" stroke="#000" stroke-width="1.3" />
<text x="262.40" y="351.90" font-size="9.1" text-anchor="end" font-weight="normal" fill="#1a1a1a" >2</text>
<line x1="265.50" y1="325.55" x2="269.00" y2="325.55" stroke="#000" stroke-width="1.3" />
<text x="262.40" y="328.45" font-size="9.1" text-anchor="end" font-weight="normal" fill="#1a1a1a" >3</text>
<line x1="265.50" y1="302.10" x2="269.00" y2="302.10" stroke="#000" stroke-width="1.3" />
<text x="262.40" y="305.00" font-size="9.1" text-anchor="end" font-weight="normal" fill="#1a1a1a" >4</text>
<line x1="269.00" y1="395.90" x2="269.00" y2="399.40" stroke="#000" stroke-width="1.3" />
<line x1="301.50" y1="395.90" x2="301.50" y2="399.40" stroke="#000" stroke-width="1.3" />
<line x1="334.00" y1="395.90" x2="334.00" y2="399.40" stroke="#000" stroke-width="1.3" />
<text x="269.00" y="410.20" font-size="9.1" text-anchor="middle" font-weight="normal" fill="#1a1a1a" >0.01</text>
<text x="301.50" y="410.20" font-size="9.1" text-anchor="middle" font-weight="normal" fill="#1a1a1a" >0.1</text>
<text x="332.00" y="410.20" font-size="9.1" text-anchor="start" font-weight="normal" fill="#1a1a1a" >1 ug/mL</text>
<text x="272.00" y="309.70" font-size="8.6" text-anchor="start" font-weight="normal" fill="#1a1a1a" >OD405</text>
<text x="337.50" y="353.10" font-size="8.7" text-anchor="start" font-weight="bold" fill="#000" >L129</text>
<text x="337.50" y="380.10" font-size="8.7" text-anchor="start" font-weight="bold" fill="#000" >K39</text>
<polygon points="75.17,526.90 75.17,523.38 76.37,523.38 99.08,522.20 121.80,517.03 122.40,517.03 122.40,526.90" fill="#f0280a"/>
<polyline points="76.37,524.92 99.08,522.01 121.80,520.76" fill="none" stroke="#e8321a" stroke-width="1.1"/>
<circle cx="76.37" cy="524.92" r="1.5" fill="#f0280a"/>
<circle cx="99.08" cy="522.01" r="1.5" fill="#f0280a"/>
<circle cx="121.80" cy="520.76" r="1.5" fill="#f0280a"/>
<polyline points="76.37,525.75 99.08,523.12 121.80,518.83" fill="none" stroke="#e8321a" stroke-width="1.1"/>
<circle cx="76.37" cy="525.75" r="1.5" fill="#f0280a"/>
<circle cx="99.08" cy="523.12" r="1.5" fill="#f0280a"/>
<circle cx="121.80" cy="518.83" r="1.5" fill="#f0280a"/>
<polyline points="76.37,526.56 99.08,523.90 121.80,521.05" fill="none" stroke="#e8321a" stroke-width="1.1"/>
<circle cx="76.37" cy="526.56" r="1.5" fill="#f0280a"/>
<circle cx="99.08" cy="523.90" r="1.5" fill="#f0280a"/>
<circle cx="121.80" cy="521.05" r="1.5" fill="#f0280a"/>
<polyline points="76.37,522.77 99.08,520.30 121.80,521.47" fill="none" stroke="#e8321a" stroke-width="1.1"/>
<circle cx="76.37" cy="522.77" r="1.5" fill="#f0280a"/>
<circle cx="99.08" cy="520.30" r="1.5" fill="#f0280a"/>
<circle cx="121.80" cy="521.47" r="1.5" fill="#f0280a"/>
<polyline points="76.37,522.68 99.08,521.32 121.80,522.39" fill="none" stroke="#e8321a" stroke-width="1.1"/>
<circle cx="76.37" cy="522.68" r="1.5" fill="#f0280a"/>
<circle cx="99.08" cy="521.32" r="1.5" fill="#f0280a"/>
<circle cx="121.80" cy="522.39" r="1.5" fill="#f0280a"/>
<polyline points="76.37,524.72 99.08,526.03 121.80,517.86" fill="none" stroke="#e8321a" stroke-width="1.1"/>
<circle cx="76.37" cy="524.72" r="1.5" fill="#f0280a"/>
<circle cx="99.08" cy="526.03" r="1.5" fill="#f0280a"/>
<circle cx="121.80" cy="517.86" r="1.5" fill="#f0280a"/>
<polyline points="76.37,523.79 99.08,520.64 121.80,518.03" fill="none" stroke="#e8321a" stroke-width="1.1"/>
<circle cx="76.37" cy="523.79" r="1.5" fill="#f0280a"/>
<circle cx="99.08" cy="520.64" r="1.5" fill="#f0280a"/>
<circle cx="121.80" cy="518.03" r="1.5" fill="#f0280a"/>
<polyline points="76.37,523.76 99.08,521.73 121.80,519.91" fill="none" stroke="#e8321a" stroke-width="1.1"/>
<circle cx="76.37" cy="523.76" r="1.5" fill="#f0280a"/>
<circle cx="99.08" cy="521.73" r="1.5" fill="#f0280a"/>
<circle cx="121.80" cy="519.91" r="1.5" fill="#f0280a"/>
<polyline points="76.37,526.42 99.08,522.76 121.80,524.51" fill="none" stroke="#e8321a" stroke-width="1.1"/>
<circle cx="76.37" cy="526.42" r="1.5" fill="#f0280a"/>
<circle cx="99.08" cy="522.76" r="1.5" fill="#f0280a"/>
<circle cx="121.80" cy="524.51" r="1.5" fill="#f0280a"/>
<polyline points="76.37,526.23 99.08,521.44 121.80,524.19" fill="none" stroke="#e8321a" stroke-width="1.1"/>
<circle cx="76.37" cy="526.23" r="1.5" fill="#f0280a"/>
<circle cx="99.08" cy="521.44" r="1.5" fill="#f0280a"/>
<circle cx="121.80" cy="524.19" r="1.5" fill="#f0280a"/>
<polyline points="76.37,526.47 99.08,526.20 121.80,517.31" fill="none" stroke="#e8321a" stroke-width="1.1"/>
<circle cx="76.37" cy="526.47" r="1.5" fill="#f0280a"/>
<circle cx="99.08" cy="526.20" r="1.5" fill="#f0280a"/>
<circle cx="121.80" cy="517.31" r="1.5" fill="#f0280a"/>
<polyline points="76.37,526.06 99.08,526.73 121.80,517.63" fill="none" stroke="#e8321a" stroke-width="1.1"/>
<circle cx="76.37" cy="526.06" r="1.5" fill="#f0280a"/>
<circle cx="99.08" cy="526.73" r="1.5" fill="#f0280a"/>
<circle cx="121.80" cy="517.63" r="1.5" fill="#f0280a"/>
<polyline points="76.37,526.33 99.08,520.95 121.80,519.01" fill="none" stroke="#e8321a" stroke-width="1.1"/>
<circle cx="76.37" cy="526.33" r="1.5" fill="#f0280a"/>
<circle cx="99.08" cy="520.95" r="1.5" fill="#f0280a"/>
<circle cx="121.80" cy="519.01" r="1.5" fill="#f0280a"/>
<polyline points="76.37,522.97 99.08,520.19 121.80,519.79" fill="none" stroke="#e8321a" stroke-width="1.1"/>
<circle cx="76.37" cy="522.97" r="1.5" fill="#f0280a"/>
<circle cx="99.08" cy="520.19" r="1.5" fill="#f0280a"/>
<circle cx="121.80" cy="519.79" r="1.5" fill="#f0280a"/>
<polyline points="76.37,520.32 99.08,512.10 121.80,505.75" fill="none" stroke="#cc5a46" stroke-width="1.1"/>
<circle cx="76.37" cy="520.32" r="1.4" fill="#f0280a"/>
<circle cx="99.08" cy="512.10" r="1.4" fill="#f0280a"/>
<circle cx="121.80" cy="505.75" r="2.0" fill="#f0280a"/>
<polyline points="76.37,523.38 99.08,517.26 121.80,510.45" fill="none" stroke="#cc5a46" stroke-width="1.1"/>
<circle cx="76.37" cy="523.38" r="1.4" fill="#f0280a"/>
<circle cx="99.08" cy="517.26" r="1.4" fill="#f0280a"/>
<circle cx="121.80" cy="510.45" r="2.0" fill="#f0280a"/>
<polyline points="76.37,524.55 99.08,512.80 121.80,512.80" fill="none" stroke="#cc5a46" stroke-width="1.1"/>
<circle cx="76.37" cy="524.55" r="1.4" fill="#f0280a"/>
<circle cx="99.08" cy="512.80" r="1.4" fill="#f0280a"/>
<circle cx="121.80" cy="512.80" r="2.0" fill="#f0280a"/>
<polyline points="76.37,499.88 99.08,462.98 121.80,445.82" fill="none" stroke="#2c3aa8" stroke-width="1.3"/>
<circle cx="76.37" cy="499.88" r="1.6" fill="#1f2b96"/>
<circle cx="99.08" cy="462.98" r="1.6" fill="#1f2b96"/>
<circle cx="121.80" cy="445.82" r="1.6" fill="#1f2b96"/>
<line x1="56.80" y1="513.50" x2="123.30" y2="513.50" stroke="#111" stroke-width="1.2" stroke-dasharray="1.3 1.0"/>
<line x1="56.80" y1="429.90" x2="56.80" y2="527.65" stroke="#000" stroke-width="1.6" />
<line x1="56.00" y1="526.90" x2="124.30" y2="526.90" stroke="#000" stroke-width="1.6" />
<line x1="53.30" y1="526.90" x2="56.80" y2="526.90" stroke="#000" stroke-width="1.3" />
<text x="50.20" y="529.80" font-size="9.1" text-anchor="end" font-weight="normal" fill="#1a1a1a" >0</text>
<line x1="53.30" y1="503.40" x2="56.80" y2="503.40" stroke="#000" stroke-width="1.3" />
<text x="50.20" y="506.30" font-size="9.1" text-anchor="end" font-weight="normal" fill="#1a1a1a" >1</text>
<line x1="53.30" y1="479.90" x2="56.80" y2="479.90" stroke="#000" stroke-width="1.3" />
<text x="50.20" y="482.80" font-size="9.1" text-anchor="end" font-weight="normal" fill="#1a1a1a" >2</text>
<line x1="53.30" y1="456.40" x2="56.80" y2="456.40" stroke="#000" stroke-width="1.3" />
<text x="50.20" y="459.30" font-size="9.1" text-anchor="end" font-weight="normal" fill="#1a1a1a" >3</text>
<line x1="53.30" y1="432.90" x2="56.80" y2="432.90" stroke="#000" stroke-width="1.3" />
<text x="50.20" y="435.80" font-size="9.1" text-anchor="end" font-weight="normal" fill="#1a1a1a" >4</text>
<line x1="56.80" y1="526.90" x2="56.80" y2="530.40" stroke="#000" stroke-width="1.3" />
<line x1="89.30" y1="526.90" x2="89.30" y2="530.40" stroke="#000" stroke-width="1.3" />
<line x1="121.80" y1="526.90" x2="121.80" y2="530.40" stroke="#000" stroke-width="1.3" />
<text x="56.80" y="541.20" font-size="9.1" text-anchor="middle" font-weight="normal" fill="#1a1a1a" >0.01</text>
<text x="89.30" y="541.20" font-size="9.1" text-anchor="middle" font-weight="normal" fill="#1a1a1a" >0.1</text>
<text x="121.80" y="541.20" font-size="9.1" text-anchor="middle" font-weight="normal" fill="#1a1a1a" >1</text>
<text x="59.80" y="440.50" font-size="8.6" text-anchor="start" font-weight="normal" fill="#1a1a1a" >OD405</text>
<polygon points="172.37,526.90 172.37,523.38 173.57,523.38 196.28,523.38 219.00,517.50 219.60,517.50 219.60,526.90" fill="#f0280a"/>
<polyline points="173.57,524.08 196.28,526.73 219.00,519.05" fill="none" stroke="#e8321a" stroke-width="1.0"/>
<circle cx="173.57" cy="524.08" r="1.5" fill="#f0280a"/>
<circle cx="196.28" cy="526.73" r="1.5" fill="#f0280a"/>
<circle cx="219.00" cy="519.05" r="1.5" fill="#f0280a"/>
<polyline points="173.57,525.10 196.28,523.54 219.00,524.80" fill="none" stroke="#e8321a" stroke-width="1.0"/>
<circle cx="173.57" cy="525.10" r="1.5" fill="#f0280a"/>
<circle cx="196.28" cy="523.54" r="1.5" fill="#f0280a"/>
<circle cx="219.00" cy="524.80" r="1.5" fill="#f0280a"/>
<polyline points="173.57,524.26 196.28,522.51 219.00,525.19" fill="none" stroke="#e8321a" stroke-width="1.0"/>
<circle cx="173.57" cy="524.26" r="1.5" fill="#f0280a"/>
<circle cx="196.28" cy="522.51" r="1.5" fill="#f0280a"/>
<circle cx="219.00" cy="525.19" r="1.5" fill="#f0280a"/>
<polyline points="173.57,525.76 196.28,524.25 219.00,518.53" fill="none" stroke="#e8321a" stroke-width="1.0"/>
<circle cx="173.57" cy="525.76" r="1.5" fill="#f0280a"/>
<circle cx="196.28" cy="524.25" r="1.5" fill="#f0280a"/>
<circle cx="219.00" cy="518.53" r="1.5" fill="#f0280a"/>
<polyline points="173.57,526.05 196.28,526.06 219.00,523.55" fill="none" stroke="#e8321a" stroke-width="1.0"/>
<circle cx="173.57" cy="526.05" r="1.5" fill="#f0280a"/>
<circle cx="196.28" cy="526.06" r="1.5" fill="#f0280a"/>
<circle cx="219.00" cy="523.55" r="1.5" fill="#f0280a"/>
<polyline points="173.57,524.73 196.28,523.36 219.00,522.30" fill="none" stroke="#e8321a" stroke-width="1.0"/>
<circle cx="173.57" cy="524.73" r="1.5" fill="#f0280a"/>
<circle cx="196.28" cy="523.36" r="1.5" fill="#f0280a"/>
<circle cx="219.00" cy="522.30" r="1.5" fill="#f0280a"/>
<polyline points="173.57,525.60 196.28,525.04 219.00,522.68" fill="none" stroke="#e8321a" stroke-width="1.0"/>
<circle cx="173.57" cy="525.60" r="1.5" fill="#f0280a"/>
<circle cx="196.28" cy="525.04" r="1.5" fill="#f0280a"/>
<circle cx="219.00" cy="522.68" r="1.5" fill="#f0280a"/>
<polyline points="173.57,525.43 196.28,526.51 219.00,521.37" fill="none" stroke="#e8321a" stroke-width="1.0"/>
<circle cx="173.57" cy="525.43" r="1.5" fill="#f0280a"/>
<circle cx="196.28" cy="526.51" r="1.5" fill="#f0280a"/>
<circle cx="219.00" cy="521.37" r="1.5" fill="#f0280a"/>
<polyline points="173.57,523.47 196.28,524.96 219.00,519.23" fill="none" stroke="#e8321a" stroke-width="1.0"/>
<circle cx="173.57" cy="523.47" r="1.5" fill="#f0280a"/>
<circle cx="196.28" cy="524.96" r="1.5" fill="#f0280a"/>
<circle cx="219.00" cy="519.23" r="1.5" fill="#f0280a"/>
<polyline points="173.57,526.33 196.28,523.65 219.00,519.15" fill="none" stroke="#e8321a" stroke-width="1.0"/>
<circle cx="173.57" cy="526.33" r="1.5" fill="#f0280a"/>
<circle cx="196.28" cy="523.65" r="1.5" fill="#f0280a"/>
<circle cx="219.00" cy="519.15" r="1.5" fill="#f0280a"/>
<polyline points="173.57,524.52 196.28,524.47 219.00,521.52" fill="none" stroke="#e8321a" stroke-width="1.0"/>
<circle cx="173.57" cy="524.52" r="1.5" fill="#f0280a"/>
<circle cx="196.28" cy="524.47" r="1.5" fill="#f0280a"/>
<circle cx="219.00" cy="521.52" r="1.5" fill="#f0280a"/>
<polyline points="173.57,524.63 196.28,522.68 219.00,524.43" fill="none" stroke="#e8321a" stroke-width="1.0"/>
<circle cx="173.57" cy="524.63" r="1.5" fill="#f0280a"/>
<circle cx="196.28" cy="522.68" r="1.5" fill="#f0280a"/>
<circle cx="219.00" cy="524.43" r="1.5" fill="#f0280a"/>
<polyline points="173.57,526.56 196.28,523.38 219.00,517.76" fill="none" stroke="#e8321a" stroke-width="1.0"/>
<circle cx="173.57" cy="526.56" r="1.5" fill="#f0280a"/>
<circle cx="196.28" cy="523.38" r="1.5" fill="#f0280a"/>
<circle cx="219.00" cy="517.76" r="1.5" fill="#f0280a"/>
<polyline points="173.57,525.08 196.28,524.82 219.00,519.47" fill="none" stroke="#e8321a" stroke-width="1.0"/>
<circle cx="173.57" cy="525.08" r="1.5" fill="#f0280a"/>
<circle cx="196.28" cy="524.82" r="1.5" fill="#f0280a"/>
<circle cx="219.00" cy="519.47" r="1.5" fill="#f0280a"/>
<polyline points="173.57,524.08 196.28,516.79 219.00,507.39" fill="none" stroke="#cc5a46" stroke-width="1.1"/>
<circle cx="173.57" cy="524.08" r="1.4" fill="#f0280a"/>
<circle cx="196.28" cy="516.79" r="1.4" fill="#f0280a"/>
<circle cx="219.00" cy="507.39" r="2.0" fill="#f0280a"/>
<polyline points="173.57,523.38 196.28,511.62 219.00,504.34" fill="none" stroke="#cc5a46" stroke-width="1.1"/>
<circle cx="173.57" cy="523.38" r="1.4" fill="#f0280a"/>
<circle cx="196.28" cy="511.62" r="1.4" fill="#f0280a"/>
<circle cx="219.00" cy="504.34" r="2.0" fill="#f0280a"/>
<polyline points="173.57,524.55 196.28,518.67 219.00,513.27" fill="none" stroke="#cc5a46" stroke-width="1.1"/>
<circle cx="173.57" cy="524.55" r="1.4" fill="#f0280a"/>
<circle cx="196.28" cy="518.67" r="1.4" fill="#f0280a"/>
<circle cx="219.00" cy="513.27" r="2.0" fill="#f0280a"/>
<polyline points="173.57,490.47 196.28,486.95 219.00,490.47" fill="none" stroke="#cc5a46" stroke-width="1.1"/>
<circle cx="173.57" cy="490.47" r="1.4" fill="#f0280a"/>
<circle cx="196.28" cy="486.95" r="1.4" fill="#f0280a"/>
<circle cx="219.00" cy="490.47" r="2.0" fill="#f0280a"/>
<polyline points="173.57,513.27 196.28,473.55 219.00,447.00" fill="none" stroke="#cc5a46" stroke-width="1.1"/>
<circle cx="173.57" cy="513.27" r="1.4" fill="#f0280a"/>
<circle cx="196.28" cy="473.55" r="1.4" fill="#f0280a"/>
<circle cx="219.00" cy="447.00" r="2.0" fill="#f0280a"/>
<polyline points="173.57,502.46 196.28,471.91 219.00,436.89" fill="none" stroke="#cc5a46" stroke-width="1.5"/>
<circle cx="173.57" cy="502.46" r="2.2" fill="#f0280a"/>
<circle cx="196.28" cy="471.91" r="2.2" fill="#f0280a"/>
<circle cx="219.00" cy="436.89" r="2.5" fill="#f0280a"/>
<polyline points="173.57,499.40 196.28,462.51 219.00,445.35" fill="none" stroke="#2c3aa8" stroke-width="1.3"/>
<circle cx="173.57" cy="499.40" r="1.6" fill="#1f2b96"/>
<circle cx="196.28" cy="462.51" r="1.6" fill="#1f2b96"/>
<circle cx="219.00" cy="445.35" r="1.6" fill="#1f2b96"/>
<line x1="154.00" y1="513.27" x2="220.50" y2="513.27" stroke="#111" stroke-width="1.2" stroke-dasharray="1.3 1.0"/>
<line x1="154.00" y1="429.90" x2="154.00" y2="527.65" stroke="#000" stroke-width="1.6" />
<line x1="153.20" y1="526.90" x2="221.50" y2="526.90" stroke="#000" stroke-width="1.6" />
<line x1="150.50" y1="526.90" x2="154.00" y2="526.90" stroke="#000" stroke-width="1.3" />
<text x="147.40" y="529.80" font-size="9.1" text-anchor="end" font-weight="normal" fill="#1a1a1a" >0</text>
<line x1="150.50" y1="503.40" x2="154.00" y2="503.40" stroke="#000" stroke-width="1.3" />
<text x="147.40" y="506.30" font-size="9.1" text-anchor="end" font-weight="normal" fill="#1a1a1a" >1</text>
<line x1="150.50" y1="479.90" x2="154.00" y2="479.90" stroke="#000" stroke-width="1.3" />
<text x="147.40" y="482.80" font-size="9.1" text-anchor="end" font-weight="normal" fill="#1a1a1a" >2</text>
<line x1="150.50" y1="456.40" x2="154.00" y2="456.40" stroke="#000" stroke-width="1.3" />
<text x="147.40" y="459.30" font-size="9.1" text-anchor="end" font-weight="normal" fill="#1a1a1a" >3</text>
<line x1="150.50" y1="432.90" x2="154.00" y2="432.90" stroke="#000" stroke-width="1.3" />
<text x="147.40" y="435.80" font-size="9.1" text-anchor="end" font-weight="normal" fill="#1a1a1a" >4</text>
<line x1="154.00" y1="526.90" x2="154.00" y2="530.40" stroke="#000" stroke-width="1.3" />
<line x1="186.50" y1="526.90" x2="186.50" y2="530.40" stroke="#000" stroke-width="1.3" />
<line x1="219.00" y1="526.90" x2="219.00" y2="530.40" stroke="#000" stroke-width="1.3" />
<text x="154.00" y="541.20" font-size="9.1" text-anchor="middle" font-weight="normal" fill="#1a1a1a" >0.01</text>
<text x="186.50" y="541.20" font-size="9.1" text-anchor="middle" font-weight="normal" fill="#1a1a1a" >0.1</text>
<text x="219.00" y="541.20" font-size="9.1" text-anchor="middle" font-weight="normal" fill="#1a1a1a" >1</text>
<text x="157.00" y="440.50" font-size="8.6" text-anchor="start" font-weight="normal" fill="#1a1a1a" >OD405</text>
<text x="223.80" y="436.10" font-size="8.7" text-anchor="start" font-weight="bold" fill="#000" >K33</text>
<text x="223.80" y="448.60" font-size="8.7" text-anchor="start" font-weight="bold" fill="#000" >K34</text>
<text x="223.80" y="495.10" font-size="8.7" text-anchor="start" font-weight="bold" fill="#000" >K69</text>
<text x="223.80" y="511.35" font-size="8.7" text-anchor="start" font-weight="bold" fill="#000" >K95</text>
<polygon points="287.47,526.70 287.47,524.35 288.67,524.35 311.38,523.65 334.10,521.53 334.70,521.53 334.70,526.70" fill="#000"/>
<polyline points="288.67,526.18 311.38,524.80 334.10,522.71" fill="none" stroke="#111" stroke-width="0.9"/>
<circle cx="288.67" cy="526.18" r="1.3" fill="#111"/>
<circle cx="311.38" cy="524.80" r="1.3" fill="#111"/>
<circle cx="334.10" cy="522.71" r="1.3" fill="#111"/>
<polyline points="288.67,525.05 311.38,524.59 334.10,522.44" fill="none" stroke="#111" stroke-width="0.9"/>
<circle cx="288.67" cy="525.05" r="1.3" fill="#111"/>
<circle cx="311.38" cy="524.59" r="1.3" fill="#111"/>
<circle cx="334.10" cy="522.44" r="1.3" fill="#111"/>
<polyline points="288.67,524.75 311.38,521.74 334.10,521.92" fill="none" stroke="#111" stroke-width="0.9"/>
<circle cx="288.67" cy="524.75" r="1.3" fill="#111"/>
<circle cx="311.38" cy="521.74" r="1.3" fill="#111"/>
<circle cx="334.10" cy="521.92" r="1.3" fill="#111"/>
<polyline points="288.67,524.71 311.38,524.15 334.10,517.33" fill="none" stroke="#111" stroke-width="0.9"/>
<circle cx="288.67" cy="524.71" r="1.3" fill="#111"/>
<circle cx="311.38" cy="524.15" r="1.3" fill="#111"/>
<circle cx="334.10" cy="517.33" r="1.3" fill="#111"/>
<polyline points="288.67,525.05 311.38,524.80 334.10,522.56" fill="none" stroke="#111" stroke-width="0.9"/>
<circle cx="288.67" cy="525.05" r="1.3" fill="#111"/>
<circle cx="311.38" cy="524.80" r="1.3" fill="#111"/>
<circle cx="334.10" cy="522.56" r="1.3" fill="#111"/>
<polyline points="288.67,526.63 311.38,523.85 334.10,521.20" fill="none" stroke="#111" stroke-width="0.9"/>
<circle cx="288.67" cy="526.63" r="1.3" fill="#111"/>
<circle cx="311.38" cy="523.85" r="1.3" fill="#111"/>
<circle cx="334.10" cy="521.20" r="1.3" fill="#111"/>
<polyline points="288.67,526.21 311.38,524.39 334.10,521.70" fill="none" stroke="#111" stroke-width="0.9"/>
<circle cx="288.67" cy="526.21" r="1.3" fill="#111"/>
<circle cx="311.38" cy="524.39" r="1.3" fill="#111"/>
<circle cx="334.10" cy="521.70" r="1.3" fill="#111"/>
<polyline points="288.67,524.52 311.38,525.35 334.10,516.20" fill="none" stroke="#111" stroke-width="0.9"/>
<circle cx="288.67" cy="524.52" r="1.3" fill="#111"/>
<circle cx="311.38" cy="525.35" r="1.3" fill="#111"/>
<circle cx="334.10" cy="516.20" r="1.3" fill="#111"/>
<polyline points="288.67,525.35 311.38,523.32 334.10,520.50" fill="none" stroke="#111" stroke-width="0.9"/>
<circle cx="288.67" cy="525.35" r="1.3" fill="#111"/>
<circle cx="311.38" cy="523.32" r="1.3" fill="#111"/>
<circle cx="334.10" cy="520.50" r="1.3" fill="#111"/>
<polyline points="288.67,524.35 311.38,522.33 334.10,519.77" fill="none" stroke="#111" stroke-width="0.9"/>
<circle cx="288.67" cy="524.35" r="1.3" fill="#111"/>
<circle cx="311.38" cy="522.33" r="1.3" fill="#111"/>
<circle cx="334.10" cy="519.77" r="1.3" fill="#111"/>
<polyline points="288.67,525.34 311.38,522.78 334.10,517.30" fill="none" stroke="#111" stroke-width="0.9"/>
<circle cx="288.67" cy="525.34" r="1.3" fill="#111"/>
<circle cx="311.38" cy="522.78" r="1.3" fill="#111"/>
<circle cx="334.10" cy="517.30" r="1.3" fill="#111"/>
<polyline points="288.67,525.57 311.38,522.72 334.10,516.45" fill="none" stroke="#111" stroke-width="0.9"/>
<circle cx="288.67" cy="525.57" r="1.3" fill="#111"/>
<circle cx="311.38" cy="522.72" r="1.3" fill="#111"/>
<circle cx="334.10" cy="516.45" r="1.3" fill="#111"/>
<polyline points="288.67,524.35 311.38,522.00 334.10,507.90" fill="none" stroke="#111" stroke-width="1.1"/>
<circle cx="288.67" cy="524.35" r="1.5" fill="#111"/>
<circle cx="311.38" cy="522.00" r="1.5" fill="#111"/>
<circle cx="334.10" cy="507.90" r="2.0" fill="#111"/>
<polyline points="288.67,503.67 311.38,481.11 334.10,450.56" fill="none" stroke="#111" stroke-width="1.1"/>
<circle cx="288.67" cy="503.67" r="1.9" fill="#111"/>
<circle cx="311.38" cy="481.11" r="1.7" fill="#111"/>
<circle cx="334.10" cy="450.56" r="2.0" fill="#111"/>
<polyline points="288.67,499.21 311.38,462.31 334.10,444.69" fill="none" stroke="#2c3aa8" stroke-width="1.3"/>
<circle cx="288.67" cy="499.21" r="1.6" fill="#1f2b96"/>
<circle cx="311.38" cy="462.31" r="1.6" fill="#1f2b96"/>
<circle cx="334.10" cy="444.69" r="1.6" fill="#1f2b96"/>
<line x1="269.10" y1="513.07" x2="335.60" y2="513.07" stroke="#111" stroke-width="1.2" stroke-dasharray="1.3 1.0"/>
<line x1="269.10" y1="429.70" x2="269.10" y2="527.45" stroke="#000" stroke-width="1.6" />
<line x1="268.30" y1="526.70" x2="336.60" y2="526.70" stroke="#000" stroke-width="1.6" />
<line x1="265.60" y1="526.70" x2="269.10" y2="526.70" stroke="#000" stroke-width="1.3" />
<text x="262.50" y="529.60" font-size="9.1" text-anchor="end" font-weight="normal" fill="#1a1a1a" >0</text>
<line x1="265.60" y1="503.20" x2="269.10" y2="503.20" stroke="#000" stroke-width="1.3" />
<text x="262.50" y="506.10" font-size="9.1" text-anchor="end" font-weight="normal" fill="#1a1a1a" >1</text>
<line x1="265.60" y1="479.70" x2="269.10" y2="479.70" stroke="#000" stroke-width="1.3" />
<text x="262.50" y="482.60" font-size="9.1" text-anchor="end" font-weight="normal" fill="#1a1a1a" >2</text>
<line x1="265.60" y1="456.20" x2="269.10" y2="456.20" stroke="#000" stroke-width="1.3" />
<text x="262.50" y="459.10" font-size="9.1" text-anchor="end" font-weight="normal" fill="#1a1a1a" >3</text>
<line x1="265.60" y1="432.70" x2="269.10" y2="432.70" stroke="#000" stroke-width="1.3" />
<text x="262.50" y="435.60" font-size="9.1" text-anchor="end" font-weight="normal" fill="#1a1a1a" >4</text>
<line x1="269.10" y1="526.70" x2="269.10" y2="530.20" stroke="#000" stroke-width="1.3" />
<line x1="301.60" y1="526.70" x2="301.60" y2="530.20" stroke="#000" stroke-width="1.3" />
<line x1="334.10" y1="526.70" x2="334.10" y2="530.20" stroke="#000" stroke-width="1.3" />
<text x="269.10" y="541.00" font-size="9.1" text-anchor="middle" font-weight="normal" fill="#1a1a1a" >0.01</text>
<text x="301.60" y="541.00" font-size="9.1" text-anchor="middle" font-weight="normal" fill="#1a1a1a" >0.1</text>
<text x="332.10" y="541.00" font-size="9.1" text-anchor="start" font-weight="normal" fill="#1a1a1a" >1 ug/mL</text>
<text x="272.10" y="440.30" font-size="8.6" text-anchor="start" font-weight="normal" fill="#1a1a1a" >OD405</text>
<text x="338.20" y="451.10" font-size="8.7" text-anchor="start" font-weight="bold" fill="#000" >L129</text>
<text x="338.20" y="511.85" font-size="8.7" text-anchor="start" font-weight="bold" fill="#000" >K39</text>
<polygon points="75.37,657.70 75.37,655.81 76.57,655.81 99.28,655.34 122.00,651.80 122.60,651.80 122.60,657.70" fill="#f0280a"/>
<polyline points="76.57,656.82 99.28,657.05 122.00,655.13" fill="none" stroke="#e8321a" stroke-width="1.3"/>
<circle cx="76.57" cy="656.82" r="1.5" fill="#f0280a"/>
<circle cx="99.28" cy="657.05" r="1.5" fill="#f0280a"/>
<circle cx="122.00" cy="655.13" r="1.5" fill="#f0280a"/>
<polyline points="76.57,656.35 99.28,655.79 122.00,650.86" fill="none" stroke="#e8321a" stroke-width="1.3"/>
<circle cx="76.57" cy="656.35" r="1.5" fill="#f0280a"/>
<circle cx="99.28" cy="655.79" r="1.5" fill="#f0280a"/>
<circle cx="122.00" cy="650.86" r="1.5" fill="#f0280a"/>
<polyline points="76.57,656.09 99.28,657.01 122.00,655.40" fill="none" stroke="#e8321a" stroke-width="1.3"/>
<circle cx="76.57" cy="656.09" r="1.5" fill="#f0280a"/>
<circle cx="99.28" cy="657.01" r="1.5" fill="#f0280a"/>
<circle cx="122.00" cy="655.40" r="1.5" fill="#f0280a"/>
<polyline points="76.57,657.21 99.28,657.17 122.00,652.36" fill="none" stroke="#e8321a" stroke-width="1.3"/>
<circle cx="76.57" cy="657.21" r="1.5" fill="#f0280a"/>
<circle cx="99.28" cy="657.17" r="1.5" fill="#f0280a"/>
<circle cx="122.00" cy="652.36" r="1.5" fill="#f0280a"/>
<polyline points="76.57,656.08 99.28,655.15 122.00,655.02" fill="none" stroke="#e8321a" stroke-width="1.3"/>
<circle cx="76.57" cy="656.08" r="1.5" fill="#f0280a"/>
<circle cx="99.28" cy="655.15" r="1.5" fill="#f0280a"/>
<circle cx="122.00" cy="655.02" r="1.5" fill="#f0280a"/>
<polyline points="76.57,656.07 99.28,656.81 122.00,654.02" fill="none" stroke="#e8321a" stroke-width="1.3"/>
<circle cx="76.57" cy="656.07" r="1.5" fill="#f0280a"/>
<circle cx="99.28" cy="656.81" r="1.5" fill="#f0280a"/>
<circle cx="122.00" cy="654.02" r="1.5" fill="#f0280a"/>
<polyline points="76.57,656.32 99.28,657.46 122.00,655.97" fill="none" stroke="#e8321a" stroke-width="1.3"/>
<circle cx="76.57" cy="656.32" r="1.5" fill="#f0280a"/>
<circle cx="99.28" cy="657.46" r="1.5" fill="#f0280a"/>
<circle cx="122.00" cy="655.97" r="1.5" fill="#f0280a"/>
<polyline points="76.57,656.13 99.28,656.87 122.00,654.42" fill="none" stroke="#e8321a" stroke-width="1.3"/>
<circle cx="76.57" cy="656.13" r="1.5" fill="#f0280a"/>
<circle cx="99.28" cy="656.87" r="1.5" fill="#f0280a"/>
<circle cx="122.00" cy="654.42" r="1.5" fill="#f0280a"/>
<polyline points="76.57,656.60 99.28,655.79 122.00,656.48" fill="none" stroke="#e8321a" stroke-width="1.3"/>
<circle cx="76.57" cy="656.60" r="1.5" fill="#f0280a"/>
<circle cx="99.28" cy="655.79" r="1.5" fill="#f0280a"/>
<circle cx="122.00" cy="656.48" r="1.5" fill="#f0280a"/>
<polyline points="76.57,657.07 99.28,656.46 122.00,653.65" fill="none" stroke="#e8321a" stroke-width="1.3"/>
<circle cx="76.57" cy="657.07" r="1.5" fill="#f0280a"/>
<circle cx="99.28" cy="656.46" r="1.5" fill="#f0280a"/>
<circle cx="122.00" cy="653.65" r="1.5" fill="#f0280a"/>
<polyline points="76.57,657.30 99.28,656.04 122.00,650.88" fill="none" stroke="#e8321a" stroke-width="1.3"/>
<circle cx="76.57" cy="657.30" r="1.5" fill="#f0280a"/>
<circle cx="99.28" cy="656.04" r="1.5" fill="#f0280a"/>
<circle cx="122.00" cy="650.88" r="1.5" fill="#f0280a"/>
<polyline points="76.57,656.96 99.28,656.16 122.00,655.82" fill="none" stroke="#e8321a" stroke-width="1.3"/>
<circle cx="76.57" cy="656.96" r="1.5" fill="#f0280a"/>
<circle cx="99.28" cy="656.16" r="1.5" fill="#f0280a"/>
<circle cx="122.00" cy="655.82" r="1.5" fill="#f0280a"/>
<polyline points="76.57,657.18 99.28,655.82 122.00,655.86" fill="none" stroke="#e8321a" stroke-width="1.3"/>
<circle cx="76.57" cy="657.18" r="1.5" fill="#f0280a"/>
<circle cx="99.28" cy="655.82" r="1.5" fill="#f0280a"/>
<circle cx="122.00" cy="655.86" r="1.5" fill="#f0280a"/>
<polyline points="76.57,656.02 99.28,655.13 122.00,655.95" fill="none" stroke="#e8321a" stroke-width="1.3"/>
<circle cx="76.57" cy="656.02" r="1.5" fill="#f0280a"/>
<circle cx="99.28" cy="655.13" r="1.5" fill="#f0280a"/>
<circle cx="122.00" cy="655.95" r="1.5" fill="#f0280a"/>
<polyline points="76.57,655.92 99.28,656.64 122.00,651.96" fill="none" stroke="#e8321a" stroke-width="1.3"/>
<circle cx="76.57" cy="655.92" r="1.5" fill="#f0280a"/>
<circle cx="99.28" cy="656.64" r="1.5" fill="#f0280a"/>
<circle cx="122.00" cy="651.96" r="1.5" fill="#f0280a"/>
<polyline points="76.57,656.27 99.28,656.86 122.00,652.53" fill="none" stroke="#e8321a" stroke-width="1.3"/>
<circle cx="76.57" cy="656.27" r="1.5" fill="#f0280a"/>
<circle cx="99.28" cy="656.86" r="1.5" fill="#f0280a"/>
<circle cx="122.00" cy="652.53" r="1.5" fill="#f0280a"/>
<polyline points="76.57,631.74 99.28,590.91 122.00,568.02" fill="none" stroke="#2c3aa8" stroke-width="1.3"/>
<circle cx="76.57" cy="631.74" r="1.6" fill="#1f2b96"/>
<circle cx="99.28" cy="590.91" r="1.6" fill="#1f2b96"/>
<circle cx="122.00" cy="568.02" r="1.6" fill="#1f2b96"/>
<line x1="57.00" y1="648.97" x2="123.50" y2="648.97" stroke="#111" stroke-width="1.2" stroke-dasharray="1.3 1.0"/>
<line x1="57.00" y1="560.30" x2="57.00" y2="658.45" stroke="#000" stroke-width="1.6" />
<line x1="56.20" y1="657.70" x2="124.50" y2="657.70" stroke="#000" stroke-width="1.6" />
<line x1="53.50" y1="657.70" x2="57.00" y2="657.70" stroke="#000" stroke-width="1.3" />
<text x="50.40" y="660.60" font-size="9.1" text-anchor="end" font-weight="normal" fill="#1a1a1a" >0</text>
<line x1="53.50" y1="634.10" x2="57.00" y2="634.10" stroke="#000" stroke-width="1.3" />
<text x="50.40" y="637.00" font-size="9.1" text-anchor="end" font-weight="normal" fill="#1a1a1a" >1</text>
<line x1="53.50" y1="610.50" x2="57.00" y2="610.50" stroke="#000" stroke-width="1.3" />
<text x="50.40" y="613.40" font-size="9.1" text-anchor="end" font-weight="normal" fill="#1a1a1a" >2</text>
<line x1="53.50" y1="586.90" x2="57.00" y2="586.90" stroke="#000" stroke-width="1.3" />
<text x="50.40" y="589.80" font-size="9.1" text-anchor="end" font-weight="normal" fill="#1a1a1a" >3</text>
<line x1="53.50" y1="563.30" x2="57.00" y2="563.30" stroke="#000" stroke-width="1.3" />
<text x="50.40" y="566.20" font-size="9.1" text-anchor="end" font-weight="normal" fill="#1a1a1a" >4</text>
<line x1="57.00" y1="657.70" x2="57.00" y2="661.20" stroke="#000" stroke-width="1.3" />
<line x1="89.50" y1="657.70" x2="89.50" y2="661.20" stroke="#000" stroke-width="1.3" />
<line x1="122.00" y1="657.70" x2="122.00" y2="661.20" stroke="#000" stroke-width="1.3" />
<text x="57.00" y="672.00" font-size="9.1" text-anchor="middle" font-weight="normal" fill="#1a1a1a" >0.01</text>
<text x="89.50" y="672.00" font-size="9.1" text-anchor="middle" font-weight="normal" fill="#1a1a1a" >0.1</text>
<text x="122.00" y="672.00" font-size="9.1" text-anchor="middle" font-weight="normal" fill="#1a1a1a" >1</text>
<text x="60.00" y="570.90" font-size="8.6" text-anchor="start" font-weight="normal" fill="#1a1a1a" >OD405</text>
<polygon points="173.57,658.70 173.57,655.87 174.77,655.87 197.48,656.81 220.20,655.40 220.80,655.40 220.80,658.70" fill="#f0280a"/>
<polyline points="174.77,653.30 197.48,652.99 220.20,655.33" fill="none" stroke="#e8321a" stroke-width="0.9"/>
<circle cx="174.77" cy="653.30" r="1.5" fill="#f0280a"/>
<circle cx="197.48" cy="652.99" r="1.5" fill="#f0280a"/>
<circle cx="220.20" cy="655.33" r="1.5" fill="#f0280a"/>
<polyline points="174.77,652.47 197.48,651.89 220.20,651.96" fill="none" stroke="#e8321a" stroke-width="0.9"/>
<circle cx="174.77" cy="652.47" r="1.5" fill="#f0280a"/>
<circle cx="197.48" cy="651.89" r="1.5" fill="#f0280a"/>
<circle cx="220.20" cy="651.96" r="1.5" fill="#f0280a"/>
<polyline points="174.77,654.27 197.48,657.90 220.20,653.44" fill="none" stroke="#e8321a" stroke-width="0.9"/>
<circle cx="174.77" cy="654.27" r="1.5" fill="#f0280a"/>
<circle cx="197.48" cy="657.90" r="1.5" fill="#f0280a"/>
<circle cx="220.20" cy="653.44" r="1.5" fill="#f0280a"/>
<polyline points="174.77,655.79 197.48,653.62 220.20,651.92" fill="none" stroke="#e8321a" stroke-width="0.9"/>
<circle cx="174.77" cy="655.79" r="1.5" fill="#f0280a"/>
<circle cx="197.48" cy="653.62" r="1.5" fill="#f0280a"/>
<circle cx="220.20" cy="651.92" r="1.5" fill="#f0280a"/>
<polyline points="174.77,654.02 197.48,657.41 220.20,652.19" fill="none" stroke="#e8321a" stroke-width="0.9"/>
<circle cx="174.77" cy="654.02" r="1.5" fill="#f0280a"/>
<circle cx="197.48" cy="657.41" r="1.5" fill="#f0280a"/>
<circle cx="220.20" cy="652.19" r="1.5" fill="#f0280a"/>
<polyline points="174.77,653.49 197.48,657.43 220.20,650.17" fill="none" stroke="#e8321a" stroke-width="0.9"/>
<circle cx="174.77" cy="653.49" r="1.5" fill="#f0280a"/>
<circle cx="197.48" cy="657.43" r="1.5" fill="#f0280a"/>
<circle cx="220.20" cy="650.17" r="1.5" fill="#f0280a"/>
<polyline points="174.77,653.29 197.48,657.83 220.20,649.82" fill="none" stroke="#e8321a" stroke-width="0.9"/>
<circle cx="174.77" cy="653.29" r="1.5" fill="#f0280a"/>
<circle cx="197.48" cy="657.83" r="1.5" fill="#f0280a"/>
<circle cx="220.20" cy="649.82" r="1.5" fill="#f0280a"/>
<polyline points="174.77,657.53 197.48,656.35 220.20,651.57" fill="none" stroke="#e8321a" stroke-width="0.9"/>
<circle cx="174.77" cy="657.53" r="1.5" fill="#f0280a"/>
<circle cx="197.48" cy="656.35" r="1.5" fill="#f0280a"/>
<circle cx="220.20" cy="651.57" r="1.5" fill="#f0280a"/>
<polyline points="174.77,653.77 197.48,654.77 220.20,652.17" fill="none" stroke="#e8321a" stroke-width="0.9"/>
<circle cx="174.77" cy="653.77" r="1.5" fill="#f0280a"/>
<circle cx="197.48" cy="654.77" r="1.5" fill="#f0280a"/>
<circle cx="220.20" cy="652.17" r="1.5" fill="#f0280a"/>
<polyline points="174.77,654.92 197.48,656.49 220.20,656.06" fill="none" stroke="#e8321a" stroke-width="0.9"/>
<circle cx="174.77" cy="654.92" r="1.5" fill="#f0280a"/>
<circle cx="197.48" cy="656.49" r="1.5" fill="#f0280a"/>
<circle cx="220.20" cy="656.06" r="1.5" fill="#f0280a"/>
<polyline points="174.77,658.13 197.48,653.63 220.20,651.29" fill="none" stroke="#e8321a" stroke-width="0.9"/>
<circle cx="174.77" cy="658.13" r="1.5" fill="#f0280a"/>
<circle cx="197.48" cy="653.63" r="1.5" fill="#f0280a"/>
<circle cx="220.20" cy="651.29" r="1.5" fill="#f0280a"/>
<polyline points="174.77,654.21 197.48,653.46 220.20,654.55" fill="none" stroke="#e8321a" stroke-width="0.9"/>
<circle cx="174.77" cy="654.21" r="1.5" fill="#f0280a"/>
<circle cx="197.48" cy="653.46" r="1.5" fill="#f0280a"/>
<circle cx="220.20" cy="654.55" r="1.5" fill="#f0280a"/>
<polyline points="174.77,649.26 197.48,650.44 220.20,646.19" fill="none" stroke="#cc5a46" stroke-width="1.1"/>
<circle cx="174.77" cy="649.26" r="1.4" fill="#f0280a"/>
<circle cx="197.48" cy="650.44" r="1.4" fill="#f0280a"/>
<circle cx="220.20" cy="646.19" r="2.0" fill="#f0280a"/>
<polyline points="174.77,648.08 197.48,629.91 220.20,622.83" fill="none" stroke="#cc5a46" stroke-width="1.1"/>
<circle cx="174.77" cy="648.08" r="1.4" fill="#f0280a"/>
<circle cx="197.48" cy="629.91" r="1.4" fill="#f0280a"/>
<circle cx="220.20" cy="622.83" r="2.0" fill="#f0280a"/>
<polyline points="174.77,639.82 197.48,604.89 220.20,574.21" fill="none" stroke="#cc5a46" stroke-width="1.5"/>
<circle cx="174.77" cy="639.82" r="2.3" fill="#f0280a"/>
<circle cx="197.48" cy="604.89" r="2.0" fill="#f0280a"/>
<circle cx="220.20" cy="574.21" r="2.5" fill="#f0280a"/>
<polyline points="174.77,632.50 197.48,590.73 220.20,568.78" fill="none" stroke="#2c3aa8" stroke-width="1.3"/>
<circle cx="174.77" cy="632.50" r="1.6" fill="#1f2b96"/>
<circle cx="197.48" cy="590.73" r="1.6" fill="#1f2b96"/>
<circle cx="220.20" cy="568.78" r="1.6" fill="#1f2b96"/>
<line x1="155.20" y1="649.97" x2="221.70" y2="649.97" stroke="#111" stroke-width="1.2" stroke-dasharray="1.3 1.0"/>
<line x1="155.20" y1="561.30" x2="155.20" y2="659.45" stroke="#000" stroke-width="1.6" />
<line x1="154.40" y1="658.70" x2="222.70" y2="658.70" stroke="#000" stroke-width="1.6" />
<line x1="151.70" y1="658.70" x2="155.20" y2="658.70" stroke="#000" stroke-width="1.3" />
<text x="148.60" y="661.60" font-size="9.1" text-anchor="end" font-weight="normal" fill="#1a1a1a" >0</text>
<line x1="151.70" y1="635.10" x2="155.20" y2="635.10" stroke="#000" stroke-width="1.3" />
<text x="148.60" y="638.00" font-size="9.1" text-anchor="end" font-weight="normal" fill="#1a1a1a" >1</text>
<line x1="151.70" y1="611.50" x2="155.20" y2="611.50" stroke="#000" stroke-width="1.3" />
<text x="148.60" y="614.40" font-size="9.1" text-anchor="end" font-weight="normal" fill="#1a1a1a" >2</text>
<line x1="151.70" y1="587.90" x2="155.20" y2="587.90" stroke="#000" stroke-width="1.3" />
<text x="148.60" y="590.80" font-size="9.1" text-anchor="end" font-weight="normal" fill="#1a1a1a" >3</text>
<line x1="151.70" y1="564.30" x2="155.20" y2="564.30" stroke="#000" stroke-width="1.3" />
<text x="148.60" y="567.20" font-size="9.1" text-anchor="end" font-weight="normal" fill="#1a1a1a" >4</text>
<line x1="155.20" y1="658.70" x2="155.20" y2="662.20" stroke="#000" stroke-width="1.3" />
<line x1="187.70" y1="658.70" x2="187.70" y2="662.20" stroke="#000" stroke-width="1.3" />
<line x1="220.20" y1="658.70" x2="220.20" y2="662.20" stroke="#000" stroke-width="1.3" />
<text x="155.20" y="673.00" font-size="9.1" text-anchor="middle" font-weight="normal" fill="#1a1a1a" >0.01</text>
<text x="187.70" y="673.00" font-size="9.1" text-anchor="middle" font-weight="normal" fill="#1a1a1a" >0.1</text>
<text x="220.20" y="673.00" font-size="9.1" text-anchor="middle" font-weight="normal" fill="#1a1a1a" >1</text>
<text x="158.20" y="571.90" font-size="8.6" text-anchor="start" font-weight="normal" fill="#1a1a1a" >OD405</text>
<text x="224.50" y="577.60" font-size="8.7" text-anchor="start" font-weight="bold" fill="#000" >K33</text>
<text x="224.50" y="625.10" font-size="8.7" text-anchor="start" font-weight="bold" fill="#000" >K34</text>
<text x="224.50" y="646.85" font-size="8.7" text-anchor="start" font-weight="bold" fill="#000" >K69</text>
<polygon points="287.27,659.40 287.27,657.51 288.47,657.51 311.18,657.98 333.90,656.57 334.50,656.57 334.50,659.40" fill="#000"/>
<polyline points="288.47,658.77 311.18,658.68 333.90,655.22" fill="none" stroke="#111" stroke-width="1.2"/>
<circle cx="288.47" cy="658.77" r="1.5" fill="#111"/>
<circle cx="311.18" cy="658.68" r="1.5" fill="#111"/>
<circle cx="333.90" cy="655.22" r="1.5" fill="#111"/>
<polyline points="288.47,659.30 311.18,658.45 333.90,657.88" fill="none" stroke="#111" stroke-width="1.2"/>
<circle cx="288.47" cy="659.30" r="1.5" fill="#111"/>
<circle cx="311.18" cy="658.45" r="1.5" fill="#111"/>
<circle cx="333.90" cy="657.88" r="1.5" fill="#111"/>
<polyline points="288.47,657.59 311.18,658.73 333.90,657.51" fill="none" stroke="#111" stroke-width="1.2"/>
<circle cx="288.47" cy="657.59" r="1.5" fill="#111"/>
<circle cx="311.18" cy="658.73" r="1.5" fill="#111"/>
<circle cx="333.90" cy="657.51" r="1.5" fill="#111"/>
<polyline points="288.47,658.45 311.18,658.38 333.90,655.65" fill="none" stroke="#111" stroke-width="1.2"/>
<circle cx="288.47" cy="658.45" r="1.5" fill="#111"/>
<circle cx="311.18" cy="658.38" r="1.5" fill="#111"/>
<circle cx="333.90" cy="655.65" r="1.5" fill="#111"/>
<polyline points="288.47,658.57 311.18,657.80 333.90,658.45" fill="none" stroke="#111" stroke-width="1.2"/>
<circle cx="288.47" cy="658.57" r="1.5" fill="#111"/>
<circle cx="311.18" cy="657.80" r="1.5" fill="#111"/>
<circle cx="333.90" cy="658.45" r="1.5" fill="#111"/>
<polyline points="288.47,658.76 311.18,659.21 333.90,658.45" fill="none" stroke="#111" stroke-width="1.2"/>
<circle cx="288.47" cy="658.76" r="1.5" fill="#111"/>
<circle cx="311.18" cy="659.21" r="1.5" fill="#111"/>
<circle cx="333.90" cy="658.45" r="1.5" fill="#111"/>
<polyline points="288.47,657.56 311.18,658.03 333.90,658.14" fill="none" stroke="#111" stroke-width="1.2"/>
<circle cx="288.47" cy="657.56" r="1.5" fill="#111"/>
<circle cx="311.18" cy="658.03" r="1.5" fill="#111"/>
<circle cx="333.90" cy="658.14" r="1.5" fill="#111"/>
<polyline points="288.47,658.95 311.18,658.61 333.90,655.77" fill="none" stroke="#111" stroke-width="1.2"/>
<circle cx="288.47" cy="658.95" r="1.5" fill="#111"/>
<circle cx="311.18" cy="658.61" r="1.5" fill="#111"/>
<circle cx="333.90" cy="655.77" r="1.5" fill="#111"/>
<polyline points="288.47,657.47 311.18,657.99 333.90,656.41" fill="none" stroke="#111" stroke-width="1.2"/>
<circle cx="288.47" cy="657.47" r="1.5" fill="#111"/>
<circle cx="311.18" cy="657.99" r="1.5" fill="#111"/>
<circle cx="333.90" cy="656.41" r="1.5" fill="#111"/>
<polyline points="288.47,659.05 311.18,658.65 333.90,658.11" fill="none" stroke="#111" stroke-width="1.2"/>
<circle cx="288.47" cy="659.05" r="1.5" fill="#111"/>
<circle cx="311.18" cy="658.65" r="1.5" fill="#111"/>
<circle cx="333.90" cy="658.11" r="1.5" fill="#111"/>
<polyline points="288.47,657.04 311.18,651.85 333.90,641.70" fill="none" stroke="#111" stroke-width="1.1"/>
<circle cx="288.47" cy="657.04" r="1.7" fill="#111"/>
<circle cx="311.18" cy="651.85" r="1.7" fill="#111"/>
<circle cx="333.90" cy="641.70" r="2.0" fill="#111"/>
<polyline points="288.47,643.12 311.18,617.39 333.90,596.39" fill="none" stroke="#111" stroke-width="1.1"/>
<circle cx="288.47" cy="643.12" r="1.9" fill="#111"/>
<circle cx="311.18" cy="617.39" r="1.7" fill="#111"/>
<circle cx="333.90" cy="596.39" r="2.0" fill="#111"/>
<polyline points="288.47,633.44 311.18,591.67 333.90,569.25" fill="none" stroke="#2c3aa8" stroke-width="1.3"/>
<circle cx="288.47" cy="633.44" r="1.6" fill="#1f2b96"/>
<circle cx="311.18" cy="591.67" r="1.6" fill="#1f2b96"/>
<circle cx="333.90" cy="569.25" r="1.6" fill="#1f2b96"/>
<line x1="268.90" y1="650.67" x2="335.40" y2="650.67" stroke="#111" stroke-width="1.2" stroke-dasharray="1.3 1.0"/>
<line x1="268.90" y1="562.00" x2="268.90" y2="660.15" stroke="#000" stroke-width="1.6" />
<line x1="268.10" y1="659.40" x2="336.40" y2="659.40" stroke="#000" stroke-width="1.6" />
<line x1="265.40" y1="659.40" x2="268.90" y2="659.40" stroke="#000" stroke-width="1.3" />
<text x="262.30" y="662.30" font-size="9.1" text-anchor="end" font-weight="normal" fill="#1a1a1a" >0</text>
<line x1="265.40" y1="635.80" x2="268.90" y2="635.80" stroke="#000" stroke-width="1.3" />
<text x="262.30" y="638.70" font-size="9.1" text-anchor="end" font-weight="normal" fill="#1a1a1a" >1</text>
<line x1="265.40" y1="612.20" x2="268.90" y2="612.20" stroke="#000" stroke-width="1.3" />
<text x="262.30" y="615.10" font-size="9.1" text-anchor="end" font-weight="normal" fill="#1a1a1a" >2</text>
<line x1="265.40" y1="588.60" x2="268.90" y2="588.60" stroke="#000" stroke-width="1.3" />
<text x="262.30" y="591.50" font-size="9.1" text-anchor="end" font-weight="normal" fill="#1a1a1a" >3</text>
<line x1="265.40" y1="565.00" x2="268.90" y2="565.00" stroke="#000" stroke-width="1.3" />
<text x="262.30" y="567.90" font-size="9.1" text-anchor="end" font-weight="normal" fill="#1a1a1a" >4</text>
<line x1="268.90" y1="659.40" x2="268.90" y2="662.90" stroke="#000" stroke-width="1.3" />
<line x1="301.40" y1="659.40" x2="301.40" y2="662.90" stroke="#000" stroke-width="1.3" />
<line x1="333.90" y1="659.40" x2="333.90" y2="662.90" stroke="#000" stroke-width="1.3" />
<text x="268.90" y="673.70" font-size="9.1" text-anchor="middle" font-weight="normal" fill="#1a1a1a" >0.01</text>
<text x="301.40" y="673.70" font-size="9.1" text-anchor="middle" font-weight="normal" fill="#1a1a1a" >0.1</text>
<text x="331.90" y="673.70" font-size="9.1" text-anchor="start" font-weight="normal" fill="#1a1a1a" >1 ug/mL</text>
<text x="271.90" y="572.60" font-size="8.6" text-anchor="start" font-weight="normal" fill="#1a1a1a" >OD405</text>
<text x="337.50" y="597.35" font-size="8.7" text-anchor="start" font-weight="bold" fill="#000" >L129</text>
<text x="337.50" y="643.85" font-size="8.7" text-anchor="start" font-weight="bold" fill="#000" >K39</text>
<circle cx="88.0" cy="721" r="35.6" fill="none" stroke="#3438c0" stroke-width="1.8"/>
<circle cx="88.0" cy="721" r="14.1" fill="none" stroke="#3438c0" stroke-width="1.8"/>
<text x="88.00" y="724.60" font-size="10.8" text-anchor="middle" font-weight="normal" fill="#1a1a1a" >18</text>
<text x="88.00" y="748.50" font-size="10.8" text-anchor="middle" font-weight="normal" fill="#1a1a1a" >100.0</text>
<path d="M196.00,685.20 A35.6,35.6 0 0 1 221.17,695.63 L205.97,710.83 A14.1,14.1 0 0 0 196.00,706.70 Z" fill="#2a40ee" stroke="#3438c0" stroke-width="1"/>
<circle cx="196.0" cy="720.8" r="35.6" fill="none" stroke="#3438c0" stroke-width="1.8"/>
<circle cx="196.0" cy="720.8" r="14.1" fill="none" stroke="#3438c0" stroke-width="1.8"/>
<text x="196.00" y="724.40" font-size="10.8" text-anchor="middle" font-weight="normal" fill="#1a1a1a" >24</text>
<text x="196.00" y="748.30" font-size="10.8" text-anchor="middle" font-weight="normal" fill="#1a1a1a" >87.5</text>
<text x="205.60" y="701.80" font-size="10.8" text-anchor="middle" font-weight="normal" fill="#e8ecff" class="w">12.5</text>
<path d="M303.70,685.20 A35.6,35.6 0 0 1 334.57,703.06 L315.93,713.78 A14.1,14.1 0 0 0 303.70,706.70 Z" fill="#2a40ee" stroke="#3438c0" stroke-width="1"/>
<circle cx="303.7" cy="720.8" r="35.6" fill="none" stroke="#3438c0" stroke-width="1.8"/>
<circle cx="303.7" cy="720.8" r="14.1" fill="none" stroke="#3438c0" stroke-width="1.8"/>
<text x="303.70" y="724.40" font-size="10.8" text-anchor="middle" font-weight="normal" fill="#1a1a1a" >12</text>
<text x="303.70" y="748.30" font-size="10.8" text-anchor="middle" font-weight="normal" fill="#1a1a1a" >83.3</text>
<text x="315.40" y="704.00" font-size="10.8" text-anchor="middle" font-weight="normal" fill="#e8ecff" class="w">16.7</text>
<rect x="120.2" y="767.8" width="10.4" height="6" fill="#2a40ee"/>
<text x="133.50" y="773.50" font-size="8.4" text-anchor="start" font-weight="normal" fill="#1a1a1a" >Polyreactive</text>
<rect x="195.5" y="768.2" width="9.6" height="5.4" fill="none" stroke="#3438c0" stroke-width="1.2"/>
<text x="208.20" y="773.50" font-size="8.4" text-anchor="start" font-weight="normal" fill="#1a1a1a" >Non-polyreactive</text>
<rect x="0" y="0" width="520" height="783" fill="none" stroke="#000" stroke-width="3"/>
</svg>
</body></html>
